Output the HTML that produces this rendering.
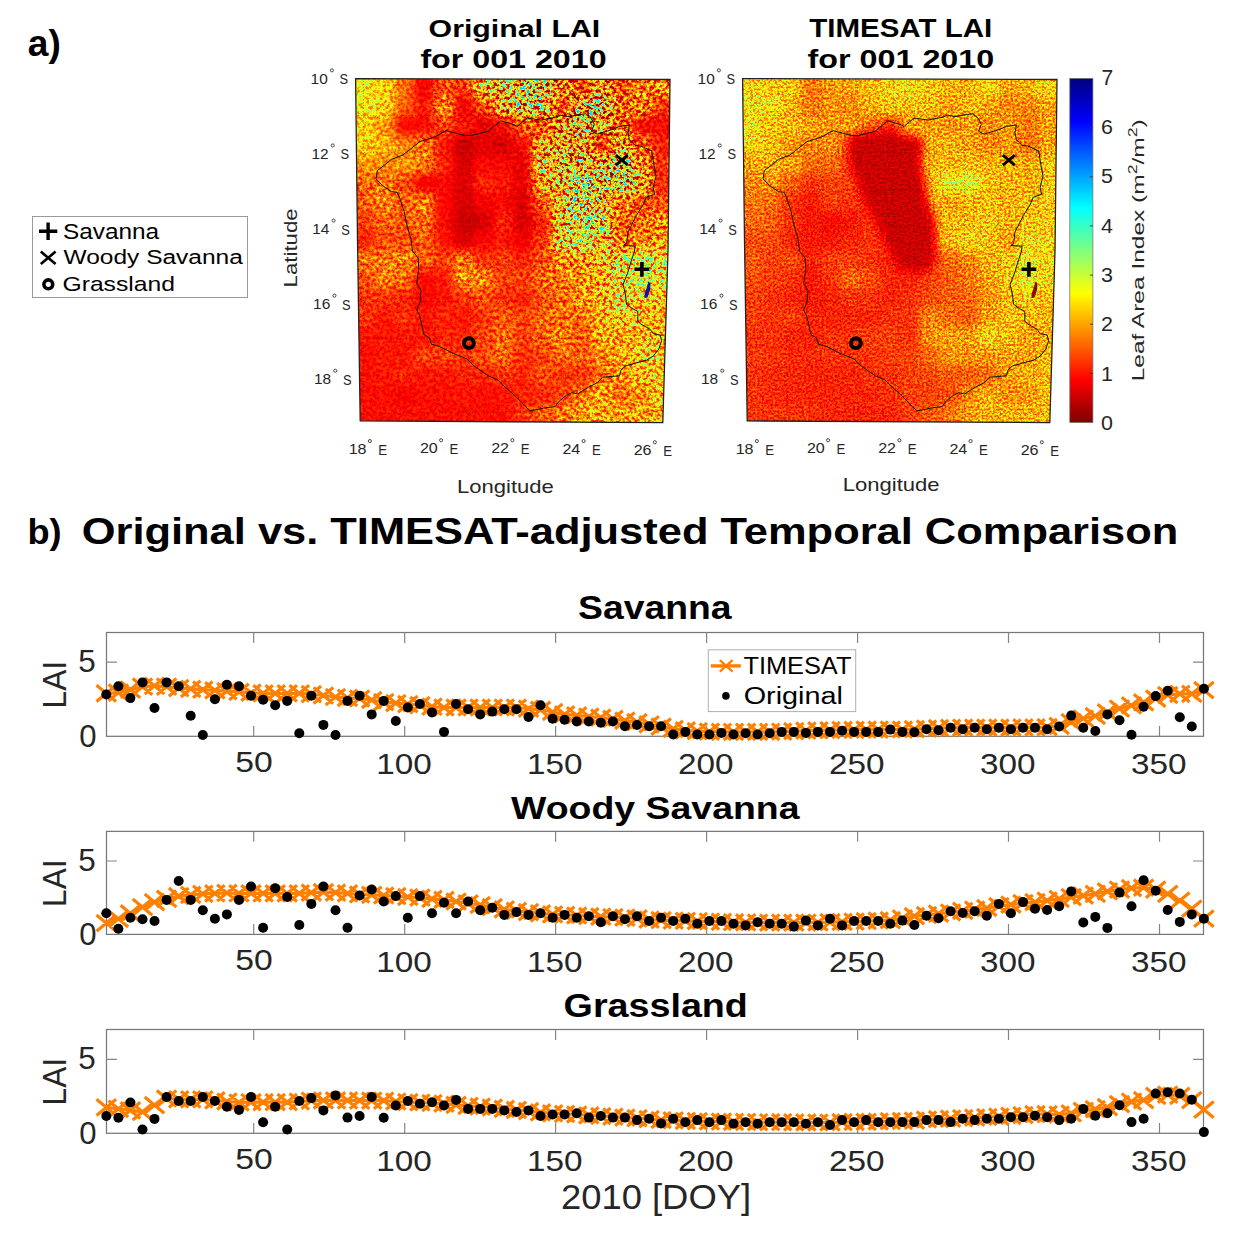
<!DOCTYPE html>
<html><head><meta charset="utf-8"><style>html,body{margin:0;padding:0;background:#fff;overflow:hidden}svg{display:block}</style></head><body>
<svg width="1245" height="1234" viewBox="0 0 1245 1234" font-family="'Liberation Sans', sans-serif">
<defs>
<filter id="lai0" filterUnits="userSpaceOnUse" x="350.0" y="73.0" width="326.0" height="355.0" color-interpolation-filters="sRGB">
<feGaussianBlur in="SourceGraphic" stdDeviation="5" result="b"/>
<feColorMatrix in="b" type="matrix" values="0 1 0 0 0 0 1 0 0 0 0 1 0 0 0 0 0 0 0 1" result="amp"/>
<feTurbulence type="fractalNoise" baseFrequency="0.3" numOctaves="4" seed="7" result="t0"/>
<feColorMatrix in="t0" type="matrix" values="1 0 0 0 0 1 0 0 0 0 1 0 0 0 0 0 0 0 0 1" result="t1"/>
<feComponentTransfer in="t1" result="t"><feFuncR type="linear" slope="2.5" intercept="-0.75"/><feFuncG type="linear" slope="2.5" intercept="-0.75"/><feFuncB type="linear" slope="2.5" intercept="-0.75"/></feComponentTransfer>
<feComposite in="amp" in2="t" operator="arithmetic" k1="1.0" k2="0" k3="0" k4="0" result="p"/>
<feComposite in="b" in2="p" operator="arithmetic" k1="0" k2="1" k3="1" k4="-0.5" result="s0"/>
<feColorMatrix in="s0" type="matrix" values="1 0 0 0 0 1 0 0 0 0 1 0 0 0 0 0 0 0 0 1" result="s"/>
<feComponentTransfer in="s">
<feFuncR type="table" tableValues="0.500 0.562 0.625 0.688 0.750 0.812 0.875 0.938 1.000 1.000 1.000 1.000 1.000 1.000 1.000 1.000 1.000 1.000 1.000 1.000 1.000 1.000 1.000 1.000 1.000 0.938 0.875 0.812 0.750 0.688 0.625 0.562 0.500 0.438 0.375 0.312 0.250 0.188 0.125 0.062 0.000 0.000 0.000 0.000 0.000 0.000 0.000 0.000 0.000 0.000 0.000 0.000 0.000 0.000 0.000 0.000 0.000 0.000 0.000 0.000 0.000 0.000 0.000 0.000 0.000"/>
<feFuncG type="table" tableValues="0.000 0.000 0.000 0.000 0.000 0.000 0.000 0.000 0.000 0.062 0.125 0.188 0.250 0.312 0.375 0.438 0.500 0.562 0.625 0.688 0.750 0.812 0.875 0.938 1.000 1.000 1.000 1.000 1.000 1.000 1.000 1.000 1.000 1.000 1.000 1.000 1.000 1.000 1.000 1.000 1.000 0.938 0.875 0.812 0.750 0.688 0.625 0.562 0.500 0.438 0.375 0.312 0.250 0.188 0.125 0.062 0.000 0.000 0.000 0.000 0.000 0.000 0.000 0.000 0.000"/>
<feFuncB type="table" tableValues="0.000 0.000 0.000 0.000 0.000 0.000 0.000 0.000 0.000 0.000 0.000 0.000 0.000 0.000 0.000 0.000 0.000 0.000 0.000 0.000 0.000 0.000 0.000 0.000 0.000 0.062 0.125 0.188 0.250 0.312 0.375 0.438 0.500 0.562 0.625 0.688 0.750 0.812 0.875 0.938 1.000 1.000 1.000 1.000 1.000 1.000 1.000 1.000 1.000 1.000 1.000 1.000 1.000 1.000 1.000 1.000 1.000 0.938 0.875 0.812 0.750 0.688 0.625 0.562 0.500"/>
<feFuncA type="linear" slope="0" intercept="1"/>
</feComponentTransfer>
</filter>
<clipPath id="cliplai0"><polygon points="355.6,78.6 670.0,79.5 668.0,251.0 662.8,422.6 360.2,420.9 357.5,240.0"/></clipPath>
<filter id="lai1" filterUnits="userSpaceOnUse" x="737.0" y="73.0" width="326.0" height="355.0" color-interpolation-filters="sRGB">
<feGaussianBlur in="SourceGraphic" stdDeviation="5" result="b"/>
<feColorMatrix in="b" type="matrix" values="0 1 0 0 0 0 1 0 0 0 0 1 0 0 0 0 0 0 0 1" result="amp"/>
<feTurbulence type="fractalNoise" baseFrequency="0.45" numOctaves="3" seed="11" result="t0"/>
<feColorMatrix in="t0" type="matrix" values="1 0 0 0 0 1 0 0 0 0 1 0 0 0 0 0 0 0 0 1" result="t1"/>
<feComponentTransfer in="t1" result="t"><feFuncR type="linear" slope="2.5" intercept="-0.75"/><feFuncG type="linear" slope="2.5" intercept="-0.75"/><feFuncB type="linear" slope="2.5" intercept="-0.75"/></feComponentTransfer>
<feComposite in="amp" in2="t" operator="arithmetic" k1="1.0" k2="0" k3="0" k4="0" result="p"/>
<feComposite in="b" in2="p" operator="arithmetic" k1="0" k2="1" k3="1" k4="-0.5" result="s0"/>
<feColorMatrix in="s0" type="matrix" values="1 0 0 0 0 1 0 0 0 0 1 0 0 0 0 0 0 0 0 1" result="s"/>
<feComponentTransfer in="s">
<feFuncR type="table" tableValues="0.500 0.562 0.625 0.688 0.750 0.812 0.875 0.938 1.000 1.000 1.000 1.000 1.000 1.000 1.000 1.000 1.000 1.000 1.000 1.000 1.000 1.000 1.000 1.000 1.000 0.938 0.875 0.812 0.750 0.688 0.625 0.562 0.500 0.438 0.375 0.312 0.250 0.188 0.125 0.062 0.000 0.000 0.000 0.000 0.000 0.000 0.000 0.000 0.000 0.000 0.000 0.000 0.000 0.000 0.000 0.000 0.000 0.000 0.000 0.000 0.000 0.000 0.000 0.000 0.000"/>
<feFuncG type="table" tableValues="0.000 0.000 0.000 0.000 0.000 0.000 0.000 0.000 0.000 0.062 0.125 0.188 0.250 0.312 0.375 0.438 0.500 0.562 0.625 0.688 0.750 0.812 0.875 0.938 1.000 1.000 1.000 1.000 1.000 1.000 1.000 1.000 1.000 1.000 1.000 1.000 1.000 1.000 1.000 1.000 1.000 0.938 0.875 0.812 0.750 0.688 0.625 0.562 0.500 0.438 0.375 0.312 0.250 0.188 0.125 0.062 0.000 0.000 0.000 0.000 0.000 0.000 0.000 0.000 0.000"/>
<feFuncB type="table" tableValues="0.000 0.000 0.000 0.000 0.000 0.000 0.000 0.000 0.000 0.000 0.000 0.000 0.000 0.000 0.000 0.000 0.000 0.000 0.000 0.000 0.000 0.000 0.000 0.000 0.000 0.062 0.125 0.188 0.250 0.312 0.375 0.438 0.500 0.562 0.625 0.688 0.750 0.812 0.875 0.938 1.000 1.000 1.000 1.000 1.000 1.000 1.000 1.000 1.000 1.000 1.000 1.000 1.000 1.000 1.000 1.000 1.000 0.938 0.875 0.812 0.750 0.688 0.625 0.562 0.500"/>
<feFuncA type="linear" slope="0" intercept="1"/>
</feComponentTransfer>
</filter>
<clipPath id="cliplai1"><polygon points="742.6,78.6 1057.0,79.5 1055.0,251.0 1049.8,422.6 747.2,420.9 744.5,240.0"/></clipPath>
<linearGradient id="cbar" x1="0" y1="0" x2="0" y2="1"><stop offset="0.0000" stop-color="rgb(0,0,127)"/><stop offset="0.0156" stop-color="rgb(0,0,143)"/><stop offset="0.0312" stop-color="rgb(0,0,159)"/><stop offset="0.0469" stop-color="rgb(0,0,175)"/><stop offset="0.0625" stop-color="rgb(0,0,191)"/><stop offset="0.0781" stop-color="rgb(0,0,207)"/><stop offset="0.0938" stop-color="rgb(0,0,223)"/><stop offset="0.1094" stop-color="rgb(0,0,239)"/><stop offset="0.1250" stop-color="rgb(0,0,255)"/><stop offset="0.1406" stop-color="rgb(0,15,255)"/><stop offset="0.1562" stop-color="rgb(0,31,255)"/><stop offset="0.1719" stop-color="rgb(0,47,255)"/><stop offset="0.1875" stop-color="rgb(0,63,255)"/><stop offset="0.2031" stop-color="rgb(0,79,255)"/><stop offset="0.2188" stop-color="rgb(0,95,255)"/><stop offset="0.2344" stop-color="rgb(0,111,255)"/><stop offset="0.2500" stop-color="rgb(0,127,255)"/><stop offset="0.2656" stop-color="rgb(0,143,255)"/><stop offset="0.2812" stop-color="rgb(0,159,255)"/><stop offset="0.2969" stop-color="rgb(0,175,255)"/><stop offset="0.3125" stop-color="rgb(0,191,255)"/><stop offset="0.3281" stop-color="rgb(0,207,255)"/><stop offset="0.3438" stop-color="rgb(0,223,255)"/><stop offset="0.3594" stop-color="rgb(0,239,255)"/><stop offset="0.3750" stop-color="rgb(0,255,255)"/><stop offset="0.3906" stop-color="rgb(15,255,239)"/><stop offset="0.4062" stop-color="rgb(31,255,223)"/><stop offset="0.4219" stop-color="rgb(47,255,207)"/><stop offset="0.4375" stop-color="rgb(63,255,191)"/><stop offset="0.4531" stop-color="rgb(79,255,175)"/><stop offset="0.4688" stop-color="rgb(95,255,159)"/><stop offset="0.4844" stop-color="rgb(111,255,143)"/><stop offset="0.5000" stop-color="rgb(127,255,127)"/><stop offset="0.5156" stop-color="rgb(143,255,111)"/><stop offset="0.5312" stop-color="rgb(159,255,95)"/><stop offset="0.5469" stop-color="rgb(175,255,79)"/><stop offset="0.5625" stop-color="rgb(191,255,63)"/><stop offset="0.5781" stop-color="rgb(207,255,47)"/><stop offset="0.5938" stop-color="rgb(223,255,31)"/><stop offset="0.6094" stop-color="rgb(239,255,15)"/><stop offset="0.6250" stop-color="rgb(255,255,0)"/><stop offset="0.6406" stop-color="rgb(255,239,0)"/><stop offset="0.6562" stop-color="rgb(255,223,0)"/><stop offset="0.6719" stop-color="rgb(255,207,0)"/><stop offset="0.6875" stop-color="rgb(255,191,0)"/><stop offset="0.7031" stop-color="rgb(255,175,0)"/><stop offset="0.7188" stop-color="rgb(255,159,0)"/><stop offset="0.7344" stop-color="rgb(255,143,0)"/><stop offset="0.7500" stop-color="rgb(255,127,0)"/><stop offset="0.7656" stop-color="rgb(255,111,0)"/><stop offset="0.7812" stop-color="rgb(255,95,0)"/><stop offset="0.7969" stop-color="rgb(255,79,0)"/><stop offset="0.8125" stop-color="rgb(255,63,0)"/><stop offset="0.8281" stop-color="rgb(255,47,0)"/><stop offset="0.8438" stop-color="rgb(255,31,0)"/><stop offset="0.8594" stop-color="rgb(255,15,0)"/><stop offset="0.8750" stop-color="rgb(255,0,0)"/><stop offset="0.8906" stop-color="rgb(239,0,0)"/><stop offset="0.9062" stop-color="rgb(223,0,0)"/><stop offset="0.9219" stop-color="rgb(207,0,0)"/><stop offset="0.9375" stop-color="rgb(191,0,0)"/><stop offset="0.9531" stop-color="rgb(175,0,0)"/><stop offset="0.9688" stop-color="rgb(159,0,0)"/><stop offset="0.9844" stop-color="rgb(143,0,0)"/><stop offset="1.0000" stop-color="rgb(127,0,0)"/></linearGradient>
</defs>
<rect width="1245" height="1234" fill="#fff"/>
<g clip-path="url(#cliplai0)"><g filter="url(#lai0)">
<rect x="335.25" y="58.83" width="20.35" height="19.77" fill="rgb(190,58,0)"/>
<rect x="355.00" y="58.83" width="20.35" height="19.77" fill="rgb(190,58,0)"/>
<rect x="374.75" y="58.83" width="20.35" height="19.77" fill="rgb(183,57,0)"/>
<rect x="394.50" y="58.83" width="20.35" height="19.77" fill="rgb(169,35,0)"/>
<rect x="414.25" y="58.83" width="20.35" height="19.77" fill="rgb(149,16,0)"/>
<rect x="434.00" y="58.83" width="20.35" height="19.77" fill="rgb(152,53,0)"/>
<rect x="453.75" y="58.83" width="20.35" height="19.77" fill="rgb(150,42,0)"/>
<rect x="473.50" y="58.83" width="20.35" height="19.77" fill="rgb(143,130,0)"/>
<rect x="493.25" y="58.83" width="20.35" height="19.77" fill="rgb(137,141,0)"/>
<rect x="513.00" y="58.83" width="20.35" height="19.77" fill="rgb(129,172,0)"/>
<rect x="532.75" y="58.83" width="20.35" height="19.77" fill="rgb(125,173,0)"/>
<rect x="552.50" y="58.83" width="20.35" height="19.77" fill="rgb(130,126,0)"/>
<rect x="572.25" y="58.83" width="20.35" height="19.77" fill="rgb(139,71,0)"/>
<rect x="592.00" y="58.83" width="20.35" height="19.77" fill="rgb(131,132,0)"/>
<rect x="611.75" y="58.83" width="20.35" height="19.77" fill="rgb(142,73,0)"/>
<rect x="631.50" y="58.83" width="20.35" height="19.77" fill="rgb(144,83,0)"/>
<rect x="651.25" y="58.83" width="20.35" height="19.77" fill="rgb(149,88,0)"/>
<rect x="671.00" y="58.83" width="20.35" height="19.77" fill="rgb(149,88,0)"/>
<rect x="335.25" y="78.00" width="20.35" height="19.77" fill="rgb(190,58,0)"/>
<rect x="355.00" y="78.00" width="20.35" height="19.77" fill="rgb(190,58,0)"/>
<rect x="374.75" y="78.00" width="20.35" height="19.77" fill="rgb(183,57,0)"/>
<rect x="394.50" y="78.00" width="20.35" height="19.77" fill="rgb(169,35,0)"/>
<rect x="414.25" y="78.00" width="20.35" height="19.77" fill="rgb(149,16,0)"/>
<rect x="434.00" y="78.00" width="20.35" height="19.77" fill="rgb(152,53,0)"/>
<rect x="453.75" y="78.00" width="20.35" height="19.77" fill="rgb(150,42,0)"/>
<rect x="473.50" y="78.00" width="20.35" height="19.77" fill="rgb(143,130,0)"/>
<rect x="493.25" y="78.00" width="20.35" height="19.77" fill="rgb(137,141,0)"/>
<rect x="513.00" y="78.00" width="20.35" height="19.77" fill="rgb(129,172,0)"/>
<rect x="532.75" y="78.00" width="20.35" height="19.77" fill="rgb(125,173,0)"/>
<rect x="552.50" y="78.00" width="20.35" height="19.77" fill="rgb(130,126,0)"/>
<rect x="572.25" y="78.00" width="20.35" height="19.77" fill="rgb(139,71,0)"/>
<rect x="592.00" y="78.00" width="20.35" height="19.77" fill="rgb(131,132,0)"/>
<rect x="611.75" y="78.00" width="20.35" height="19.77" fill="rgb(142,73,0)"/>
<rect x="631.50" y="78.00" width="20.35" height="19.77" fill="rgb(144,83,0)"/>
<rect x="651.25" y="78.00" width="20.35" height="19.77" fill="rgb(149,88,0)"/>
<rect x="671.00" y="78.00" width="20.35" height="19.77" fill="rgb(149,88,0)"/>
<rect x="335.25" y="97.17" width="20.35" height="19.77" fill="rgb(190,58,0)"/>
<rect x="355.00" y="97.17" width="20.35" height="19.77" fill="rgb(190,58,0)"/>
<rect x="374.75" y="97.17" width="20.35" height="19.77" fill="rgb(185,60,0)"/>
<rect x="394.50" y="97.17" width="20.35" height="19.77" fill="rgb(167,31,0)"/>
<rect x="414.25" y="97.17" width="20.35" height="19.77" fill="rgb(153,23,0)"/>
<rect x="434.00" y="97.17" width="20.35" height="19.77" fill="rgb(153,81,0)"/>
<rect x="453.75" y="97.17" width="20.35" height="19.77" fill="rgb(147,19,0)"/>
<rect x="473.50" y="97.17" width="20.35" height="19.77" fill="rgb(147,55,0)"/>
<rect x="493.25" y="97.17" width="20.35" height="19.77" fill="rgb(138,126,0)"/>
<rect x="513.00" y="97.17" width="20.35" height="19.77" fill="rgb(129,179,0)"/>
<rect x="532.75" y="97.17" width="20.35" height="19.77" fill="rgb(122,172,0)"/>
<rect x="552.50" y="97.17" width="20.35" height="19.77" fill="rgb(137,76,0)"/>
<rect x="572.25" y="97.17" width="20.35" height="19.77" fill="rgb(115,186,0)"/>
<rect x="592.00" y="97.17" width="20.35" height="19.77" fill="rgb(117,180,0)"/>
<rect x="611.75" y="97.17" width="20.35" height="19.77" fill="rgb(137,91,0)"/>
<rect x="631.50" y="97.17" width="20.35" height="19.77" fill="rgb(139,108,0)"/>
<rect x="651.25" y="97.17" width="20.35" height="19.77" fill="rgb(149,45,0)"/>
<rect x="671.00" y="97.17" width="20.35" height="19.77" fill="rgb(149,45,0)"/>
<rect x="335.25" y="116.33" width="20.35" height="19.77" fill="rgb(185,54,0)"/>
<rect x="355.00" y="116.33" width="20.35" height="19.77" fill="rgb(185,54,0)"/>
<rect x="374.75" y="116.33" width="20.35" height="19.77" fill="rgb(176,42,0)"/>
<rect x="394.50" y="116.33" width="20.35" height="19.77" fill="rgb(156,9,0)"/>
<rect x="414.25" y="116.33" width="20.35" height="19.77" fill="rgb(153,15,0)"/>
<rect x="434.00" y="116.33" width="20.35" height="19.77" fill="rgb(154,42,0)"/>
<rect x="453.75" y="116.33" width="20.35" height="19.77" fill="rgb(152,24,0)"/>
<rect x="473.50" y="116.33" width="20.35" height="19.77" fill="rgb(144,19,0)"/>
<rect x="493.25" y="116.33" width="20.35" height="19.77" fill="rgb(150,21,0)"/>
<rect x="513.00" y="116.33" width="20.35" height="19.77" fill="rgb(144,69,0)"/>
<rect x="532.75" y="116.33" width="20.35" height="19.77" fill="rgb(142,67,0)"/>
<rect x="552.50" y="116.33" width="20.35" height="19.77" fill="rgb(129,129,0)"/>
<rect x="572.25" y="116.33" width="20.35" height="19.77" fill="rgb(117,182,0)"/>
<rect x="592.00" y="116.33" width="20.35" height="19.77" fill="rgb(124,145,0)"/>
<rect x="611.75" y="116.33" width="20.35" height="19.77" fill="rgb(134,103,0)"/>
<rect x="631.50" y="116.33" width="20.35" height="19.77" fill="rgb(148,24,0)"/>
<rect x="651.25" y="116.33" width="20.35" height="19.77" fill="rgb(150,20,0)"/>
<rect x="671.00" y="116.33" width="20.35" height="19.77" fill="rgb(150,20,0)"/>
<rect x="335.25" y="135.50" width="20.35" height="19.77" fill="rgb(185,52,0)"/>
<rect x="355.00" y="135.50" width="20.35" height="19.77" fill="rgb(185,52,0)"/>
<rect x="374.75" y="135.50" width="20.35" height="19.77" fill="rgb(181,47,0)"/>
<rect x="394.50" y="135.50" width="20.35" height="19.77" fill="rgb(174,37,0)"/>
<rect x="414.25" y="135.50" width="20.35" height="19.77" fill="rgb(160,58,0)"/>
<rect x="434.00" y="135.50" width="20.35" height="19.77" fill="rgb(154,20,0)"/>
<rect x="453.75" y="135.50" width="20.35" height="19.77" fill="rgb(138,15,0)"/>
<rect x="473.50" y="135.50" width="20.35" height="19.77" fill="rgb(145,16,0)"/>
<rect x="493.25" y="135.50" width="20.35" height="19.77" fill="rgb(140,18,0)"/>
<rect x="513.00" y="135.50" width="20.35" height="19.77" fill="rgb(150,20,0)"/>
<rect x="532.75" y="135.50" width="20.35" height="19.77" fill="rgb(138,125,0)"/>
<rect x="552.50" y="135.50" width="20.35" height="19.77" fill="rgb(130,141,0)"/>
<rect x="572.25" y="135.50" width="20.35" height="19.77" fill="rgb(129,129,0)"/>
<rect x="592.00" y="135.50" width="20.35" height="19.77" fill="rgb(140,62,0)"/>
<rect x="611.75" y="135.50" width="20.35" height="19.77" fill="rgb(130,133,0)"/>
<rect x="631.50" y="135.50" width="20.35" height="19.77" fill="rgb(142,80,0)"/>
<rect x="651.25" y="135.50" width="20.35" height="19.77" fill="rgb(149,36,0)"/>
<rect x="671.00" y="135.50" width="20.35" height="19.77" fill="rgb(149,36,0)"/>
<rect x="335.25" y="154.67" width="20.35" height="19.77" fill="rgb(177,39,0)"/>
<rect x="355.00" y="154.67" width="20.35" height="19.77" fill="rgb(177,39,0)"/>
<rect x="374.75" y="154.67" width="20.35" height="19.77" fill="rgb(175,36,0)"/>
<rect x="394.50" y="154.67" width="20.35" height="19.77" fill="rgb(177,40,0)"/>
<rect x="414.25" y="154.67" width="20.35" height="19.77" fill="rgb(162,56,0)"/>
<rect x="434.00" y="154.67" width="20.35" height="19.77" fill="rgb(155,24,0)"/>
<rect x="453.75" y="154.67" width="20.35" height="19.77" fill="rgb(142,14,0)"/>
<rect x="473.50" y="154.67" width="20.35" height="19.77" fill="rgb(153,15,0)"/>
<rect x="493.25" y="154.67" width="20.35" height="19.77" fill="rgb(152,16,0)"/>
<rect x="513.00" y="154.67" width="20.35" height="19.77" fill="rgb(144,19,0)"/>
<rect x="532.75" y="154.67" width="20.35" height="19.77" fill="rgb(140,143,0)"/>
<rect x="552.50" y="154.67" width="20.35" height="19.77" fill="rgb(130,154,0)"/>
<rect x="572.25" y="154.67" width="20.35" height="19.77" fill="rgb(123,169,0)"/>
<rect x="592.00" y="154.67" width="20.35" height="19.77" fill="rgb(125,150,0)"/>
<rect x="611.75" y="154.67" width="20.35" height="19.77" fill="rgb(123,184,0)"/>
<rect x="631.50" y="154.67" width="20.35" height="19.77" fill="rgb(139,107,0)"/>
<rect x="651.25" y="154.67" width="20.35" height="19.77" fill="rgb(149,44,0)"/>
<rect x="671.00" y="154.67" width="20.35" height="19.77" fill="rgb(149,44,0)"/>
<rect x="335.25" y="173.83" width="20.35" height="19.77" fill="rgb(161,49,0)"/>
<rect x="355.00" y="173.83" width="20.35" height="19.77" fill="rgb(161,49,0)"/>
<rect x="374.75" y="173.83" width="20.35" height="19.77" fill="rgb(162,55,0)"/>
<rect x="394.50" y="173.83" width="20.35" height="19.77" fill="rgb(159,39,0)"/>
<rect x="414.25" y="173.83" width="20.35" height="19.77" fill="rgb(150,13,0)"/>
<rect x="434.00" y="173.83" width="20.35" height="19.77" fill="rgb(154,13,0)"/>
<rect x="453.75" y="173.83" width="20.35" height="19.77" fill="rgb(143,14,0)"/>
<rect x="473.50" y="173.83" width="20.35" height="19.77" fill="rgb(155,26,0)"/>
<rect x="493.25" y="173.83" width="20.35" height="19.77" fill="rgb(153,22,0)"/>
<rect x="513.00" y="173.83" width="20.35" height="19.77" fill="rgb(144,18,0)"/>
<rect x="532.75" y="173.83" width="20.35" height="19.77" fill="rgb(144,113,0)"/>
<rect x="552.50" y="173.83" width="20.35" height="19.77" fill="rgb(135,130,0)"/>
<rect x="572.25" y="173.83" width="20.35" height="19.77" fill="rgb(145,184,0)"/>
<rect x="592.00" y="173.83" width="20.35" height="19.77" fill="rgb(122,178,0)"/>
<rect x="611.75" y="173.83" width="20.35" height="19.77" fill="rgb(133,179,0)"/>
<rect x="631.50" y="173.83" width="20.35" height="19.77" fill="rgb(137,141,0)"/>
<rect x="651.25" y="173.83" width="20.35" height="19.77" fill="rgb(150,35,0)"/>
<rect x="671.00" y="173.83" width="20.35" height="19.77" fill="rgb(150,35,0)"/>
<rect x="335.25" y="193.00" width="20.35" height="19.77" fill="rgb(160,44,0)"/>
<rect x="355.00" y="193.00" width="20.35" height="19.77" fill="rgb(160,44,0)"/>
<rect x="374.75" y="193.00" width="20.35" height="19.77" fill="rgb(163,60,0)"/>
<rect x="394.50" y="193.00" width="20.35" height="19.77" fill="rgb(160,44,0)"/>
<rect x="414.25" y="193.00" width="20.35" height="19.77" fill="rgb(163,60,0)"/>
<rect x="434.00" y="193.00" width="20.35" height="19.77" fill="rgb(154,13,0)"/>
<rect x="453.75" y="193.00" width="20.35" height="19.77" fill="rgb(143,13,0)"/>
<rect x="473.50" y="193.00" width="20.35" height="19.77" fill="rgb(150,14,0)"/>
<rect x="493.25" y="193.00" width="20.35" height="19.77" fill="rgb(153,15,0)"/>
<rect x="513.00" y="193.00" width="20.35" height="19.77" fill="rgb(141,17,0)"/>
<rect x="532.75" y="193.00" width="20.35" height="19.77" fill="rgb(148,68,0)"/>
<rect x="552.50" y="193.00" width="20.35" height="19.77" fill="rgb(137,140,0)"/>
<rect x="572.25" y="193.00" width="20.35" height="19.77" fill="rgb(136,173,0)"/>
<rect x="592.00" y="193.00" width="20.35" height="19.77" fill="rgb(131,146,0)"/>
<rect x="611.75" y="193.00" width="20.35" height="19.77" fill="rgb(140,91,0)"/>
<rect x="631.50" y="193.00" width="20.35" height="19.77" fill="rgb(146,65,0)"/>
<rect x="651.25" y="193.00" width="20.35" height="19.77" fill="rgb(150,56,0)"/>
<rect x="671.00" y="193.00" width="20.35" height="19.77" fill="rgb(150,56,0)"/>
<rect x="335.25" y="212.17" width="20.35" height="19.77" fill="rgb(158,34,0)"/>
<rect x="355.00" y="212.17" width="20.35" height="19.77" fill="rgb(158,34,0)"/>
<rect x="374.75" y="212.17" width="20.35" height="19.77" fill="rgb(160,44,0)"/>
<rect x="394.50" y="212.17" width="20.35" height="19.77" fill="rgb(160,44,0)"/>
<rect x="414.25" y="212.17" width="20.35" height="19.77" fill="rgb(161,50,0)"/>
<rect x="434.00" y="212.17" width="20.35" height="19.77" fill="rgb(154,13,0)"/>
<rect x="453.75" y="212.17" width="20.35" height="19.77" fill="rgb(139,13,0)"/>
<rect x="473.50" y="212.17" width="20.35" height="19.77" fill="rgb(142,14,0)"/>
<rect x="493.25" y="212.17" width="20.35" height="19.77" fill="rgb(154,27,0)"/>
<rect x="513.00" y="212.17" width="20.35" height="19.77" fill="rgb(141,16,0)"/>
<rect x="532.75" y="212.17" width="20.35" height="19.77" fill="rgb(151,33,0)"/>
<rect x="552.50" y="212.17" width="20.35" height="19.77" fill="rgb(144,128,0)"/>
<rect x="572.25" y="212.17" width="20.35" height="19.77" fill="rgb(151,156,0)"/>
<rect x="592.00" y="212.17" width="20.35" height="19.77" fill="rgb(143,159,0)"/>
<rect x="611.75" y="212.17" width="20.35" height="19.77" fill="rgb(145,74,0)"/>
<rect x="631.50" y="212.17" width="20.35" height="19.77" fill="rgb(148,75,0)"/>
<rect x="651.25" y="212.17" width="20.35" height="19.77" fill="rgb(153,81,0)"/>
<rect x="671.00" y="212.17" width="20.35" height="19.77" fill="rgb(153,81,0)"/>
<rect x="335.25" y="231.33" width="20.35" height="19.77" fill="rgb(156,23,0)"/>
<rect x="355.00" y="231.33" width="20.35" height="19.77" fill="rgb(156,23,0)"/>
<rect x="374.75" y="231.33" width="20.35" height="19.77" fill="rgb(159,39,0)"/>
<rect x="394.50" y="231.33" width="20.35" height="19.77" fill="rgb(159,39,0)"/>
<rect x="414.25" y="231.33" width="20.35" height="19.77" fill="rgb(160,44,0)"/>
<rect x="434.00" y="231.33" width="20.35" height="19.77" fill="rgb(155,18,0)"/>
<rect x="453.75" y="231.33" width="20.35" height="19.77" fill="rgb(143,13,0)"/>
<rect x="473.50" y="231.33" width="20.35" height="19.77" fill="rgb(153,14,0)"/>
<rect x="493.25" y="231.33" width="20.35" height="19.77" fill="rgb(154,20,0)"/>
<rect x="513.00" y="231.33" width="20.35" height="19.77" fill="rgb(149,15,0)"/>
<rect x="532.75" y="231.33" width="20.35" height="19.77" fill="rgb(153,37,0)"/>
<rect x="552.50" y="231.33" width="20.35" height="19.77" fill="rgb(150,130,0)"/>
<rect x="572.25" y="231.33" width="20.35" height="19.77" fill="rgb(160,138,0)"/>
<rect x="592.00" y="231.33" width="20.35" height="19.77" fill="rgb(145,132,0)"/>
<rect x="611.75" y="231.33" width="20.35" height="19.77" fill="rgb(149,74,0)"/>
<rect x="631.50" y="231.33" width="20.35" height="19.77" fill="rgb(152,83,0)"/>
<rect x="651.25" y="231.33" width="20.35" height="19.77" fill="rgb(156,82,0)"/>
<rect x="671.00" y="231.33" width="20.35" height="19.77" fill="rgb(156,82,0)"/>
<rect x="335.25" y="250.50" width="20.35" height="19.77" fill="rgb(162,55,0)"/>
<rect x="355.00" y="250.50" width="20.35" height="19.77" fill="rgb(162,55,0)"/>
<rect x="374.75" y="250.50" width="20.35" height="19.77" fill="rgb(162,55,0)"/>
<rect x="394.50" y="250.50" width="20.35" height="19.77" fill="rgb(163,60,0)"/>
<rect x="414.25" y="250.50" width="20.35" height="19.77" fill="rgb(160,44,0)"/>
<rect x="434.00" y="250.50" width="20.35" height="19.77" fill="rgb(158,34,0)"/>
<rect x="453.75" y="250.50" width="20.35" height="19.77" fill="rgb(162,55,0)"/>
<rect x="473.50" y="250.50" width="20.35" height="19.77" fill="rgb(156,29,0)"/>
<rect x="493.25" y="250.50" width="20.35" height="19.77" fill="rgb(157,36,0)"/>
<rect x="513.00" y="250.50" width="20.35" height="19.77" fill="rgb(154,26,0)"/>
<rect x="532.75" y="250.50" width="20.35" height="19.77" fill="rgb(155,47,0)"/>
<rect x="552.50" y="250.50" width="20.35" height="19.77" fill="rgb(155,77,0)"/>
<rect x="572.25" y="250.50" width="20.35" height="19.77" fill="rgb(153,87,0)"/>
<rect x="592.00" y="250.50" width="20.35" height="19.77" fill="rgb(153,109,0)"/>
<rect x="611.75" y="250.50" width="20.35" height="19.77" fill="rgb(158,120,0)"/>
<rect x="631.50" y="250.50" width="20.35" height="19.77" fill="rgb(173,114,0)"/>
<rect x="651.25" y="250.50" width="20.35" height="19.77" fill="rgb(165,106,0)"/>
<rect x="671.00" y="250.50" width="20.35" height="19.77" fill="rgb(165,106,0)"/>
<rect x="335.25" y="269.67" width="20.35" height="19.77" fill="rgb(159,39,0)"/>
<rect x="355.00" y="269.67" width="20.35" height="19.77" fill="rgb(159,39,0)"/>
<rect x="374.75" y="269.67" width="20.35" height="19.77" fill="rgb(162,55,0)"/>
<rect x="394.50" y="269.67" width="20.35" height="19.77" fill="rgb(161,49,0)"/>
<rect x="414.25" y="269.67" width="20.35" height="19.77" fill="rgb(154,13,0)"/>
<rect x="434.00" y="269.67" width="20.35" height="19.77" fill="rgb(155,18,0)"/>
<rect x="453.75" y="269.67" width="20.35" height="19.77" fill="rgb(164,66,0)"/>
<rect x="473.50" y="269.67" width="20.35" height="19.77" fill="rgb(163,61,0)"/>
<rect x="493.25" y="269.67" width="20.35" height="19.77" fill="rgb(157,35,0)"/>
<rect x="513.00" y="269.67" width="20.35" height="19.77" fill="rgb(157,36,0)"/>
<rect x="532.75" y="269.67" width="20.35" height="19.77" fill="rgb(158,55,0)"/>
<rect x="552.50" y="269.67" width="20.35" height="19.77" fill="rgb(158,64,0)"/>
<rect x="572.25" y="269.67" width="20.35" height="19.77" fill="rgb(158,78,0)"/>
<rect x="592.00" y="269.67" width="20.35" height="19.77" fill="rgb(158,91,0)"/>
<rect x="611.75" y="269.67" width="20.35" height="19.77" fill="rgb(164,108,0)"/>
<rect x="631.50" y="269.67" width="20.35" height="19.77" fill="rgb(184,105,0)"/>
<rect x="651.25" y="269.67" width="20.35" height="19.77" fill="rgb(168,100,0)"/>
<rect x="671.00" y="269.67" width="20.35" height="19.77" fill="rgb(168,100,0)"/>
<rect x="335.25" y="288.83" width="20.35" height="19.77" fill="rgb(157,29,0)"/>
<rect x="355.00" y="288.83" width="20.35" height="19.77" fill="rgb(157,29,0)"/>
<rect x="374.75" y="288.83" width="20.35" height="19.77" fill="rgb(157,29,0)"/>
<rect x="394.50" y="288.83" width="20.35" height="19.77" fill="rgb(156,23,0)"/>
<rect x="414.25" y="288.83" width="20.35" height="19.77" fill="rgb(154,13,0)"/>
<rect x="434.00" y="288.83" width="20.35" height="19.77" fill="rgb(155,18,0)"/>
<rect x="453.75" y="288.83" width="20.35" height="19.77" fill="rgb(157,29,0)"/>
<rect x="473.50" y="288.83" width="20.35" height="19.77" fill="rgb(159,39,0)"/>
<rect x="493.25" y="288.83" width="20.35" height="19.77" fill="rgb(157,29,0)"/>
<rect x="513.00" y="288.83" width="20.35" height="19.77" fill="rgb(155,24,0)"/>
<rect x="532.75" y="288.83" width="20.35" height="19.77" fill="rgb(158,42,0)"/>
<rect x="552.50" y="288.83" width="20.35" height="19.77" fill="rgb(159,54,0)"/>
<rect x="572.25" y="288.83" width="20.35" height="19.77" fill="rgb(161,72,0)"/>
<rect x="592.00" y="288.83" width="20.35" height="19.77" fill="rgb(162,84,0)"/>
<rect x="611.75" y="288.83" width="20.35" height="19.77" fill="rgb(165,100,0)"/>
<rect x="631.50" y="288.83" width="20.35" height="19.77" fill="rgb(165,93,0)"/>
<rect x="651.25" y="288.83" width="20.35" height="19.77" fill="rgb(165,85,0)"/>
<rect x="671.00" y="288.83" width="20.35" height="19.77" fill="rgb(165,85,0)"/>
<rect x="335.25" y="308.00" width="20.35" height="19.77" fill="rgb(157,29,0)"/>
<rect x="355.00" y="308.00" width="20.35" height="19.77" fill="rgb(157,29,0)"/>
<rect x="374.75" y="308.00" width="20.35" height="19.77" fill="rgb(155,18,0)"/>
<rect x="394.50" y="308.00" width="20.35" height="19.77" fill="rgb(157,29,0)"/>
<rect x="414.25" y="308.00" width="20.35" height="19.77" fill="rgb(155,18,0)"/>
<rect x="434.00" y="308.00" width="20.35" height="19.77" fill="rgb(156,23,0)"/>
<rect x="453.75" y="308.00" width="20.35" height="19.77" fill="rgb(155,18,0)"/>
<rect x="473.50" y="308.00" width="20.35" height="19.77" fill="rgb(157,29,0)"/>
<rect x="493.25" y="308.00" width="20.35" height="19.77" fill="rgb(160,45,0)"/>
<rect x="513.00" y="308.00" width="20.35" height="19.77" fill="rgb(158,34,0)"/>
<rect x="532.75" y="308.00" width="20.35" height="19.77" fill="rgb(160,51,0)"/>
<rect x="552.50" y="308.00" width="20.35" height="19.77" fill="rgb(160,52,0)"/>
<rect x="572.25" y="308.00" width="20.35" height="19.77" fill="rgb(160,52,0)"/>
<rect x="592.00" y="308.00" width="20.35" height="19.77" fill="rgb(164,80,0)"/>
<rect x="611.75" y="308.00" width="20.35" height="19.77" fill="rgb(167,96,0)"/>
<rect x="631.50" y="308.00" width="20.35" height="19.77" fill="rgb(166,84,0)"/>
<rect x="651.25" y="308.00" width="20.35" height="19.77" fill="rgb(165,77,0)"/>
<rect x="671.00" y="308.00" width="20.35" height="19.77" fill="rgb(165,77,0)"/>
<rect x="335.25" y="327.17" width="20.35" height="19.77" fill="rgb(155,18,0)"/>
<rect x="355.00" y="327.17" width="20.35" height="19.77" fill="rgb(155,18,0)"/>
<rect x="374.75" y="327.17" width="20.35" height="19.77" fill="rgb(155,18,0)"/>
<rect x="394.50" y="327.17" width="20.35" height="19.77" fill="rgb(155,18,0)"/>
<rect x="414.25" y="327.17" width="20.35" height="19.77" fill="rgb(155,18,0)"/>
<rect x="434.00" y="327.17" width="20.35" height="19.77" fill="rgb(156,23,0)"/>
<rect x="453.75" y="327.17" width="20.35" height="19.77" fill="rgb(156,23,0)"/>
<rect x="473.50" y="327.17" width="20.35" height="19.77" fill="rgb(158,34,0)"/>
<rect x="493.25" y="327.17" width="20.35" height="19.77" fill="rgb(161,50,0)"/>
<rect x="513.00" y="327.17" width="20.35" height="19.77" fill="rgb(158,34,0)"/>
<rect x="532.75" y="327.17" width="20.35" height="19.77" fill="rgb(160,45,0)"/>
<rect x="552.50" y="327.17" width="20.35" height="19.77" fill="rgb(163,61,0)"/>
<rect x="572.25" y="327.17" width="20.35" height="19.77" fill="rgb(159,45,0)"/>
<rect x="592.00" y="327.17" width="20.35" height="19.77" fill="rgb(165,77,0)"/>
<rect x="611.75" y="327.17" width="20.35" height="19.77" fill="rgb(164,72,0)"/>
<rect x="631.50" y="327.17" width="20.35" height="19.77" fill="rgb(166,77,0)"/>
<rect x="651.25" y="327.17" width="20.35" height="19.77" fill="rgb(167,82,0)"/>
<rect x="671.00" y="327.17" width="20.35" height="19.77" fill="rgb(167,82,0)"/>
<rect x="335.25" y="346.33" width="20.35" height="19.77" fill="rgb(154,16,0)"/>
<rect x="355.00" y="346.33" width="20.35" height="19.77" fill="rgb(154,16,0)"/>
<rect x="374.75" y="346.33" width="20.35" height="19.77" fill="rgb(155,18,0)"/>
<rect x="394.50" y="346.33" width="20.35" height="19.77" fill="rgb(155,18,0)"/>
<rect x="414.25" y="346.33" width="20.35" height="19.77" fill="rgb(158,34,0)"/>
<rect x="434.00" y="346.33" width="20.35" height="19.77" fill="rgb(158,34,0)"/>
<rect x="453.75" y="346.33" width="20.35" height="19.77" fill="rgb(157,29,0)"/>
<rect x="473.50" y="346.33" width="20.35" height="19.77" fill="rgb(159,39,0)"/>
<rect x="493.25" y="346.33" width="20.35" height="19.77" fill="rgb(161,50,0)"/>
<rect x="513.00" y="346.33" width="20.35" height="19.77" fill="rgb(157,29,0)"/>
<rect x="532.75" y="346.33" width="20.35" height="19.77" fill="rgb(158,34,0)"/>
<rect x="552.50" y="346.33" width="20.35" height="19.77" fill="rgb(161,50,0)"/>
<rect x="572.25" y="346.33" width="20.35" height="19.77" fill="rgb(160,45,0)"/>
<rect x="592.00" y="346.33" width="20.35" height="19.77" fill="rgb(163,60,0)"/>
<rect x="611.75" y="346.33" width="20.35" height="19.77" fill="rgb(165,71,0)"/>
<rect x="631.50" y="346.33" width="20.35" height="19.77" fill="rgb(169,92,0)"/>
<rect x="651.25" y="346.33" width="20.35" height="19.77" fill="rgb(168,86,0)"/>
<rect x="671.00" y="346.33" width="20.35" height="19.77" fill="rgb(168,86,0)"/>
<rect x="335.25" y="365.50" width="20.35" height="19.77" fill="rgb(154,16,0)"/>
<rect x="355.00" y="365.50" width="20.35" height="19.77" fill="rgb(154,16,0)"/>
<rect x="374.75" y="365.50" width="20.35" height="19.77" fill="rgb(155,18,0)"/>
<rect x="394.50" y="365.50" width="20.35" height="19.77" fill="rgb(156,23,0)"/>
<rect x="414.25" y="365.50" width="20.35" height="19.77" fill="rgb(155,18,0)"/>
<rect x="434.00" y="365.50" width="20.35" height="19.77" fill="rgb(155,18,0)"/>
<rect x="453.75" y="365.50" width="20.35" height="19.77" fill="rgb(156,23,0)"/>
<rect x="473.50" y="365.50" width="20.35" height="19.77" fill="rgb(156,23,0)"/>
<rect x="493.25" y="365.50" width="20.35" height="19.77" fill="rgb(157,29,0)"/>
<rect x="513.00" y="365.50" width="20.35" height="19.77" fill="rgb(156,23,0)"/>
<rect x="532.75" y="365.50" width="20.35" height="19.77" fill="rgb(159,39,0)"/>
<rect x="552.50" y="365.50" width="20.35" height="19.77" fill="rgb(157,29,0)"/>
<rect x="572.25" y="365.50" width="20.35" height="19.77" fill="rgb(157,29,0)"/>
<rect x="592.00" y="365.50" width="20.35" height="19.77" fill="rgb(161,50,0)"/>
<rect x="611.75" y="365.50" width="20.35" height="19.77" fill="rgb(164,65,0)"/>
<rect x="631.50" y="365.50" width="20.35" height="19.77" fill="rgb(167,81,0)"/>
<rect x="651.25" y="365.50" width="20.35" height="19.77" fill="rgb(168,86,0)"/>
<rect x="671.00" y="365.50" width="20.35" height="19.77" fill="rgb(168,86,0)"/>
<rect x="335.25" y="384.67" width="20.35" height="19.77" fill="rgb(154,16,0)"/>
<rect x="355.00" y="384.67" width="20.35" height="19.77" fill="rgb(154,16,0)"/>
<rect x="374.75" y="384.67" width="20.35" height="19.77" fill="rgb(154,16,0)"/>
<rect x="394.50" y="384.67" width="20.35" height="19.77" fill="rgb(152,13,0)"/>
<rect x="414.25" y="384.67" width="20.35" height="19.77" fill="rgb(154,16,0)"/>
<rect x="434.00" y="384.67" width="20.35" height="19.77" fill="rgb(154,16,0)"/>
<rect x="453.75" y="384.67" width="20.35" height="19.77" fill="rgb(155,18,0)"/>
<rect x="473.50" y="384.67" width="20.35" height="19.77" fill="rgb(154,16,0)"/>
<rect x="493.25" y="384.67" width="20.35" height="19.77" fill="rgb(155,18,0)"/>
<rect x="513.00" y="384.67" width="20.35" height="19.77" fill="rgb(156,23,0)"/>
<rect x="532.75" y="384.67" width="20.35" height="19.77" fill="rgb(156,23,0)"/>
<rect x="552.50" y="384.67" width="20.35" height="19.77" fill="rgb(158,34,0)"/>
<rect x="572.25" y="384.67" width="20.35" height="19.77" fill="rgb(162,55,0)"/>
<rect x="592.00" y="384.67" width="20.35" height="19.77" fill="rgb(165,70,0)"/>
<rect x="611.75" y="384.67" width="20.35" height="19.77" fill="rgb(161,49,0)"/>
<rect x="631.50" y="384.67" width="20.35" height="19.77" fill="rgb(164,65,0)"/>
<rect x="651.25" y="384.67" width="20.35" height="19.77" fill="rgb(167,81,0)"/>
<rect x="671.00" y="384.67" width="20.35" height="19.77" fill="rgb(167,81,0)"/>
<rect x="335.25" y="403.83" width="20.35" height="19.77" fill="rgb(154,16,0)"/>
<rect x="355.00" y="403.83" width="20.35" height="19.77" fill="rgb(154,16,0)"/>
<rect x="374.75" y="403.83" width="20.35" height="19.77" fill="rgb(154,16,0)"/>
<rect x="394.50" y="403.83" width="20.35" height="19.77" fill="rgb(154,16,0)"/>
<rect x="414.25" y="403.83" width="20.35" height="19.77" fill="rgb(154,16,0)"/>
<rect x="434.00" y="403.83" width="20.35" height="19.77" fill="rgb(154,16,0)"/>
<rect x="453.75" y="403.83" width="20.35" height="19.77" fill="rgb(154,16,0)"/>
<rect x="473.50" y="403.83" width="20.35" height="19.77" fill="rgb(154,16,0)"/>
<rect x="493.25" y="403.83" width="20.35" height="19.77" fill="rgb(154,16,0)"/>
<rect x="513.00" y="403.83" width="20.35" height="19.77" fill="rgb(157,29,0)"/>
<rect x="532.75" y="403.83" width="20.35" height="19.77" fill="rgb(160,44,0)"/>
<rect x="552.50" y="403.83" width="20.35" height="19.77" fill="rgb(162,55,0)"/>
<rect x="572.25" y="403.83" width="20.35" height="19.77" fill="rgb(165,70,0)"/>
<rect x="592.00" y="403.83" width="20.35" height="19.77" fill="rgb(166,75,0)"/>
<rect x="611.75" y="403.83" width="20.35" height="19.77" fill="rgb(165,70,0)"/>
<rect x="631.50" y="403.83" width="20.35" height="19.77" fill="rgb(165,70,0)"/>
<rect x="651.25" y="403.83" width="20.35" height="19.77" fill="rgb(167,81,0)"/>
<rect x="671.00" y="403.83" width="20.35" height="19.77" fill="rgb(167,81,0)"/>
<rect x="335.25" y="423.00" width="20.35" height="19.77" fill="rgb(154,16,0)"/>
<rect x="355.00" y="423.00" width="20.35" height="19.77" fill="rgb(154,16,0)"/>
<rect x="374.75" y="423.00" width="20.35" height="19.77" fill="rgb(154,16,0)"/>
<rect x="394.50" y="423.00" width="20.35" height="19.77" fill="rgb(154,16,0)"/>
<rect x="414.25" y="423.00" width="20.35" height="19.77" fill="rgb(154,16,0)"/>
<rect x="434.00" y="423.00" width="20.35" height="19.77" fill="rgb(154,16,0)"/>
<rect x="453.75" y="423.00" width="20.35" height="19.77" fill="rgb(154,16,0)"/>
<rect x="473.50" y="423.00" width="20.35" height="19.77" fill="rgb(154,16,0)"/>
<rect x="493.25" y="423.00" width="20.35" height="19.77" fill="rgb(154,16,0)"/>
<rect x="513.00" y="423.00" width="20.35" height="19.77" fill="rgb(157,29,0)"/>
<rect x="532.75" y="423.00" width="20.35" height="19.77" fill="rgb(160,44,0)"/>
<rect x="552.50" y="423.00" width="20.35" height="19.77" fill="rgb(162,55,0)"/>
<rect x="572.25" y="423.00" width="20.35" height="19.77" fill="rgb(165,70,0)"/>
<rect x="592.00" y="423.00" width="20.35" height="19.77" fill="rgb(166,75,0)"/>
<rect x="611.75" y="423.00" width="20.35" height="19.77" fill="rgb(165,70,0)"/>
<rect x="631.50" y="423.00" width="20.35" height="19.77" fill="rgb(165,70,0)"/>
<rect x="651.25" y="423.00" width="20.35" height="19.77" fill="rgb(167,81,0)"/>
<rect x="671.00" y="423.00" width="20.35" height="19.77" fill="rgb(167,81,0)"/>
</g>
<polygon points="648.5,281.5 650.5,283.5 650.0,290.0 647.5,297.5 644.5,298.0 644.8,293.0 646.5,288.5" fill="#1010b0"/>
<path d="M355.0 115.5H671.0M355.0 152.7H671.0M355.0 189.9H671.0M355.0 227.1H671.0M355.0 264.3H671.0M355.0 301.5H671.0M355.0 338.7H671.0M355.0 375.9H671.0M355.0 413.1H671.0M363.4 78.0V423.0M399.1 78.0V423.0M434.8 78.0V423.0M470.5 78.0V423.0M506.2 78.0V423.0M541.9 78.0V423.0M577.6 78.0V423.0M613.3 78.0V423.0M649.0 78.0V423.0" stroke="#000" stroke-opacity="0.28" stroke-width="1" stroke-dasharray="1 2" fill="none"/>
</g>
<polyline points="412.5,251.0 411.1,239.2 406.9,225.2 404.1,211.2 399.9,198.6 397.1,192.3 391.5,191.6 383.0,185.9 376.0,178.9 377.4,170.5 383.0,166.3 391.5,159.3 402.7,155.1 415.3,145.3 419.5,141.8 434.9,136.9 446.1,130.6 464.4,135.5 471.4,135.5 488.2,131.3 500.8,120.8 513.0,124.3 517.2,126.4 527.0,118.0 541.0,120.1 555.1,117.3 560.7,115.2 567.7,116.6 580.3,114.5 585.9,113.7 591.5,118.7 594.3,124.3 591.5,131.3 597.1,134.1 611.1,129.9 619.5,126.4 629.4,125.0 628.0,132.7 629.4,139.7 635.0,145.3 640.6,146.0 651.8,150.9 653.2,160.7 654.6,169.1 656.0,176.1 653.2,187.4 654.6,194.4 646.2,197.2 643.4,204.2 636.4,215.4 630.8,226.6 628.0,232.2 626.6,243.4 623.8,245.5 635.0,246.2 634.5,251.0 630.8,262.2 628.0,272.0 625.2,279.0 623.1,284.6 625.2,293.1 626.6,304.3 632.2,308.5 637.8,311.3 637.8,321.1 640.6,323.9 650.4,329.5 653.2,333.7 660.2,335.1 661.6,340.7 658.8,349.1 653.2,356.1 646.2,360.4 635.0,363.2 625.2,366.0 621.0,370.2 619.5,375.8 611.1,376.5 602.7,377.2 597.1,382.8 588.7,387.0 577.5,394.0 571.9,392.6 566.3,395.4 559.3,401.0 555.1,406.6 543.8,408.0 538.2,409.4 529.8,410.8 521.4,402.4 513.0,394.0 505.0,387.0 498.0,380.0 488.2,375.8 474.2,366.0 467.2,359.0 453.1,353.3 439.1,346.3 431.4,344.2 429.3,337.9 423.7,334.4 422.3,326.7 419.5,315.5 416.7,309.9 420.2,301.5 420.9,290.3 416.7,283.2 418.8,269.2 418.1,258.0 412.5,251.0" fill="none" stroke="#111" stroke-width="1" stroke-linejoin="round"/>
<polygon points="355.6,78.6 670.0,79.5 668.0,251.0 662.8,422.6 360.2,420.9 357.5,240.0" fill="none" stroke="#222" stroke-width="1.3"/>
<path d="M634.5 269.3H649.3M641.9 261.9V276.7" stroke="#000" stroke-width="3.6"/>
<path d="M615.8 155.1L627.8 165.1M615.8 165.1L627.8 155.1" stroke="#000" stroke-width="2.8"/>
<circle cx="468.9" cy="343.1" r="4.9" fill="none" stroke="#000" stroke-width="4"/>
<text x="310.55" y="83.60" font-size="14.95" fill="#262626" textLength="17.17" lengthAdjust="spacingAndGlyphs">10</text>
<text x="339.55" y="84.35" font-size="14.45" fill="#262626" textLength="8.58" lengthAdjust="spacingAndGlyphs">S</text>
<circle cx="331.90" cy="70.35" r="1.55" fill="none" stroke="#333" stroke-width="0.9"/>
<text x="311.40" y="158.70" font-size="14.95" fill="#262626" textLength="17.17" lengthAdjust="spacingAndGlyphs">12</text>
<text x="340.40" y="159.45" font-size="14.45" fill="#262626" textLength="8.58" lengthAdjust="spacingAndGlyphs">S</text>
<circle cx="332.75" cy="145.45" r="1.55" fill="none" stroke="#333" stroke-width="0.9"/>
<text x="312.25" y="233.80" font-size="14.95" fill="#262626" textLength="17.17" lengthAdjust="spacingAndGlyphs">14</text>
<text x="341.25" y="234.55" font-size="14.45" fill="#262626" textLength="8.58" lengthAdjust="spacingAndGlyphs">S</text>
<circle cx="333.60" cy="220.55" r="1.55" fill="none" stroke="#333" stroke-width="0.9"/>
<text x="313.10" y="308.90" font-size="14.95" fill="#262626" textLength="17.17" lengthAdjust="spacingAndGlyphs">16</text>
<text x="342.10" y="309.65" font-size="14.45" fill="#262626" textLength="8.58" lengthAdjust="spacingAndGlyphs">S</text>
<circle cx="334.45" cy="295.65" r="1.55" fill="none" stroke="#333" stroke-width="0.9"/>
<text x="313.95" y="384.00" font-size="14.95" fill="#262626" textLength="17.17" lengthAdjust="spacingAndGlyphs">18</text>
<text x="342.95" y="384.75" font-size="14.45" fill="#262626" textLength="8.58" lengthAdjust="spacingAndGlyphs">S</text>
<circle cx="335.30" cy="370.75" r="1.55" fill="none" stroke="#333" stroke-width="0.9"/>
<text x="348.70" y="454.20" font-size="15.35" fill="#262626" textLength="17.88" lengthAdjust="spacingAndGlyphs">18</text>
<text x="378.15" y="454.60" font-size="14.38" fill="#262626" textLength="8.81" lengthAdjust="spacingAndGlyphs">E</text>
<circle cx="369.85" cy="441.05" r="1.55" fill="none" stroke="#333" stroke-width="0.9"/>
<text x="419.95" y="453.40" font-size="15.35" fill="#262626" textLength="17.88" lengthAdjust="spacingAndGlyphs">20</text>
<text x="449.40" y="453.80" font-size="14.38" fill="#262626" textLength="8.81" lengthAdjust="spacingAndGlyphs">E</text>
<circle cx="441.10" cy="440.25" r="1.55" fill="none" stroke="#333" stroke-width="0.9"/>
<text x="491.20" y="453.40" font-size="15.35" fill="#262626" textLength="17.88" lengthAdjust="spacingAndGlyphs">22</text>
<text x="520.65" y="453.80" font-size="14.38" fill="#262626" textLength="8.81" lengthAdjust="spacingAndGlyphs">E</text>
<circle cx="512.35" cy="440.25" r="1.55" fill="none" stroke="#333" stroke-width="0.9"/>
<text x="562.45" y="454.20" font-size="15.35" fill="#262626" textLength="17.88" lengthAdjust="spacingAndGlyphs">24</text>
<text x="591.90" y="454.60" font-size="14.38" fill="#262626" textLength="8.81" lengthAdjust="spacingAndGlyphs">E</text>
<circle cx="583.60" cy="441.05" r="1.55" fill="none" stroke="#333" stroke-width="0.9"/>
<text x="633.70" y="455.40" font-size="15.35" fill="#262626" textLength="17.88" lengthAdjust="spacingAndGlyphs">26</text>
<text x="663.15" y="455.80" font-size="14.38" fill="#262626" textLength="8.81" lengthAdjust="spacingAndGlyphs">E</text>
<circle cx="654.85" cy="442.25" r="1.55" fill="none" stroke="#333" stroke-width="0.9"/>
<g clip-path="url(#cliplai1)"><g filter="url(#lai1)">
<rect x="722.25" y="58.83" width="20.35" height="19.77" fill="rgb(184,62,0)"/>
<rect x="742.00" y="58.83" width="20.35" height="19.77" fill="rgb(184,62,0)"/>
<rect x="761.75" y="58.83" width="20.35" height="19.77" fill="rgb(181,60,0)"/>
<rect x="781.50" y="58.83" width="20.35" height="19.77" fill="rgb(181,60,0)"/>
<rect x="801.25" y="58.83" width="20.35" height="19.77" fill="rgb(167,44,0)"/>
<rect x="821.00" y="58.83" width="20.35" height="19.77" fill="rgb(172,49,0)"/>
<rect x="840.75" y="58.83" width="20.35" height="19.77" fill="rgb(174,52,0)"/>
<rect x="860.50" y="58.83" width="20.35" height="19.77" fill="rgb(179,57,0)"/>
<rect x="880.25" y="58.83" width="20.35" height="19.77" fill="rgb(184,62,0)"/>
<rect x="900.00" y="58.83" width="20.35" height="19.77" fill="rgb(186,65,0)"/>
<rect x="919.75" y="58.83" width="20.35" height="19.77" fill="rgb(181,60,0)"/>
<rect x="939.50" y="58.83" width="20.35" height="19.77" fill="rgb(177,55,0)"/>
<rect x="959.25" y="58.83" width="20.35" height="19.77" fill="rgb(177,55,0)"/>
<rect x="979.00" y="58.83" width="20.35" height="19.77" fill="rgb(184,62,0)"/>
<rect x="998.75" y="58.83" width="20.35" height="19.77" fill="rgb(174,52,0)"/>
<rect x="1018.50" y="58.83" width="20.35" height="19.77" fill="rgb(177,55,0)"/>
<rect x="1038.25" y="58.83" width="20.35" height="19.77" fill="rgb(184,62,0)"/>
<rect x="1058.00" y="58.83" width="20.35" height="19.77" fill="rgb(184,62,0)"/>
<rect x="722.25" y="78.00" width="20.35" height="19.77" fill="rgb(184,62,0)"/>
<rect x="742.00" y="78.00" width="20.35" height="19.77" fill="rgb(184,62,0)"/>
<rect x="761.75" y="78.00" width="20.35" height="19.77" fill="rgb(181,60,0)"/>
<rect x="781.50" y="78.00" width="20.35" height="19.77" fill="rgb(181,60,0)"/>
<rect x="801.25" y="78.00" width="20.35" height="19.77" fill="rgb(167,44,0)"/>
<rect x="821.00" y="78.00" width="20.35" height="19.77" fill="rgb(172,49,0)"/>
<rect x="840.75" y="78.00" width="20.35" height="19.77" fill="rgb(174,52,0)"/>
<rect x="860.50" y="78.00" width="20.35" height="19.77" fill="rgb(179,57,0)"/>
<rect x="880.25" y="78.00" width="20.35" height="19.77" fill="rgb(184,62,0)"/>
<rect x="900.00" y="78.00" width="20.35" height="19.77" fill="rgb(186,65,0)"/>
<rect x="919.75" y="78.00" width="20.35" height="19.77" fill="rgb(181,60,0)"/>
<rect x="939.50" y="78.00" width="20.35" height="19.77" fill="rgb(177,55,0)"/>
<rect x="959.25" y="78.00" width="20.35" height="19.77" fill="rgb(177,55,0)"/>
<rect x="979.00" y="78.00" width="20.35" height="19.77" fill="rgb(184,62,0)"/>
<rect x="998.75" y="78.00" width="20.35" height="19.77" fill="rgb(174,52,0)"/>
<rect x="1018.50" y="78.00" width="20.35" height="19.77" fill="rgb(177,55,0)"/>
<rect x="1038.25" y="78.00" width="20.35" height="19.77" fill="rgb(184,62,0)"/>
<rect x="1058.00" y="78.00" width="20.35" height="19.77" fill="rgb(184,62,0)"/>
<rect x="722.25" y="97.17" width="20.35" height="19.77" fill="rgb(186,65,0)"/>
<rect x="742.00" y="97.17" width="20.35" height="19.77" fill="rgb(186,65,0)"/>
<rect x="761.75" y="97.17" width="20.35" height="19.77" fill="rgb(186,65,0)"/>
<rect x="781.50" y="97.17" width="20.35" height="19.77" fill="rgb(177,55,0)"/>
<rect x="801.25" y="97.17" width="20.35" height="19.77" fill="rgb(167,44,0)"/>
<rect x="821.00" y="97.17" width="20.35" height="19.77" fill="rgb(172,49,0)"/>
<rect x="840.75" y="97.17" width="20.35" height="19.77" fill="rgb(170,47,0)"/>
<rect x="860.50" y="97.17" width="20.35" height="19.77" fill="rgb(177,55,0)"/>
<rect x="880.25" y="97.17" width="20.35" height="19.77" fill="rgb(181,60,0)"/>
<rect x="900.00" y="97.17" width="20.35" height="19.77" fill="rgb(179,57,0)"/>
<rect x="919.75" y="97.17" width="20.35" height="19.77" fill="rgb(179,57,0)"/>
<rect x="939.50" y="97.17" width="20.35" height="19.77" fill="rgb(174,52,0)"/>
<rect x="959.25" y="97.17" width="20.35" height="19.77" fill="rgb(179,57,0)"/>
<rect x="979.00" y="97.17" width="20.35" height="19.77" fill="rgb(174,52,0)"/>
<rect x="998.75" y="97.17" width="20.35" height="19.77" fill="rgb(170,47,0)"/>
<rect x="1018.50" y="97.17" width="20.35" height="19.77" fill="rgb(170,47,0)"/>
<rect x="1038.25" y="97.17" width="20.35" height="19.77" fill="rgb(174,52,0)"/>
<rect x="1058.00" y="97.17" width="20.35" height="19.77" fill="rgb(174,52,0)"/>
<rect x="722.25" y="116.33" width="20.35" height="19.77" fill="rgb(186,65,0)"/>
<rect x="742.00" y="116.33" width="20.35" height="19.77" fill="rgb(186,65,0)"/>
<rect x="761.75" y="116.33" width="20.35" height="19.77" fill="rgb(179,57,0)"/>
<rect x="781.50" y="116.33" width="20.35" height="19.77" fill="rgb(179,57,0)"/>
<rect x="801.25" y="116.33" width="20.35" height="19.77" fill="rgb(174,52,0)"/>
<rect x="821.00" y="116.33" width="20.35" height="19.77" fill="rgb(172,49,0)"/>
<rect x="840.75" y="116.33" width="20.35" height="19.77" fill="rgb(174,52,0)"/>
<rect x="860.50" y="116.33" width="20.35" height="19.77" fill="rgb(165,42,0)"/>
<rect x="880.25" y="116.33" width="20.35" height="19.77" fill="rgb(156,31,0)"/>
<rect x="900.00" y="116.33" width="20.35" height="19.77" fill="rgb(174,52,0)"/>
<rect x="919.75" y="116.33" width="20.35" height="19.77" fill="rgb(174,52,0)"/>
<rect x="939.50" y="116.33" width="20.35" height="19.77" fill="rgb(172,49,0)"/>
<rect x="959.25" y="116.33" width="20.35" height="19.77" fill="rgb(174,52,0)"/>
<rect x="979.00" y="116.33" width="20.35" height="19.77" fill="rgb(170,47,0)"/>
<rect x="998.75" y="116.33" width="20.35" height="19.77" fill="rgb(174,52,0)"/>
<rect x="1018.50" y="116.33" width="20.35" height="19.77" fill="rgb(167,44,0)"/>
<rect x="1038.25" y="116.33" width="20.35" height="19.77" fill="rgb(174,52,0)"/>
<rect x="1058.00" y="116.33" width="20.35" height="19.77" fill="rgb(174,52,0)"/>
<rect x="722.25" y="135.50" width="20.35" height="19.77" fill="rgb(184,62,0)"/>
<rect x="742.00" y="135.50" width="20.35" height="19.77" fill="rgb(184,62,0)"/>
<rect x="761.75" y="135.50" width="20.35" height="19.77" fill="rgb(179,57,0)"/>
<rect x="781.50" y="135.50" width="20.35" height="19.77" fill="rgb(172,49,0)"/>
<rect x="801.25" y="135.50" width="20.35" height="19.77" fill="rgb(170,47,0)"/>
<rect x="821.00" y="135.50" width="20.35" height="19.77" fill="rgb(170,47,0)"/>
<rect x="840.75" y="135.50" width="20.35" height="19.77" fill="rgb(163,39,0)"/>
<rect x="860.50" y="135.50" width="20.35" height="19.77" fill="rgb(146,21,0)"/>
<rect x="880.25" y="135.50" width="20.35" height="19.77" fill="rgb(143,20,0)"/>
<rect x="900.00" y="135.50" width="20.35" height="19.77" fill="rgb(160,36,0)"/>
<rect x="919.75" y="135.50" width="20.35" height="19.77" fill="rgb(177,55,0)"/>
<rect x="939.50" y="135.50" width="20.35" height="19.77" fill="rgb(177,55,0)"/>
<rect x="959.25" y="135.50" width="20.35" height="19.77" fill="rgb(174,52,0)"/>
<rect x="979.00" y="135.50" width="20.35" height="19.77" fill="rgb(170,47,0)"/>
<rect x="998.75" y="135.50" width="20.35" height="19.77" fill="rgb(172,49,0)"/>
<rect x="1018.50" y="135.50" width="20.35" height="19.77" fill="rgb(167,44,0)"/>
<rect x="1038.25" y="135.50" width="20.35" height="19.77" fill="rgb(174,52,0)"/>
<rect x="1058.00" y="135.50" width="20.35" height="19.77" fill="rgb(174,52,0)"/>
<rect x="722.25" y="154.67" width="20.35" height="19.77" fill="rgb(174,52,0)"/>
<rect x="742.00" y="154.67" width="20.35" height="19.77" fill="rgb(174,52,0)"/>
<rect x="761.75" y="154.67" width="20.35" height="19.77" fill="rgb(177,55,0)"/>
<rect x="781.50" y="154.67" width="20.35" height="19.77" fill="rgb(174,52,0)"/>
<rect x="801.25" y="154.67" width="20.35" height="19.77" fill="rgb(165,42,0)"/>
<rect x="821.00" y="154.67" width="20.35" height="19.77" fill="rgb(165,42,0)"/>
<rect x="840.75" y="154.67" width="20.35" height="19.77" fill="rgb(158,34,0)"/>
<rect x="860.50" y="154.67" width="20.35" height="19.77" fill="rgb(146,21,0)"/>
<rect x="880.25" y="154.67" width="20.35" height="19.77" fill="rgb(146,21,0)"/>
<rect x="900.00" y="154.67" width="20.35" height="19.77" fill="rgb(143,20,0)"/>
<rect x="919.75" y="154.67" width="20.35" height="19.77" fill="rgb(177,55,0)"/>
<rect x="939.50" y="154.67" width="20.35" height="19.77" fill="rgb(177,55,0)"/>
<rect x="959.25" y="154.67" width="20.35" height="19.77" fill="rgb(179,57,0)"/>
<rect x="979.00" y="154.67" width="20.35" height="19.77" fill="rgb(177,55,0)"/>
<rect x="998.75" y="154.67" width="20.35" height="19.77" fill="rgb(179,57,0)"/>
<rect x="1018.50" y="154.67" width="20.35" height="19.77" fill="rgb(174,52,0)"/>
<rect x="1038.25" y="154.67" width="20.35" height="19.77" fill="rgb(181,60,0)"/>
<rect x="1058.00" y="154.67" width="20.35" height="19.77" fill="rgb(181,60,0)"/>
<rect x="722.25" y="173.83" width="20.35" height="19.77" fill="rgb(170,47,0)"/>
<rect x="742.00" y="173.83" width="20.35" height="19.77" fill="rgb(170,47,0)"/>
<rect x="761.75" y="173.83" width="20.35" height="19.77" fill="rgb(172,49,0)"/>
<rect x="781.50" y="173.83" width="20.35" height="19.77" fill="rgb(163,39,0)"/>
<rect x="801.25" y="173.83" width="20.35" height="19.77" fill="rgb(156,31,0)"/>
<rect x="821.00" y="173.83" width="20.35" height="19.77" fill="rgb(158,34,0)"/>
<rect x="840.75" y="173.83" width="20.35" height="19.77" fill="rgb(158,34,0)"/>
<rect x="860.50" y="173.83" width="20.35" height="19.77" fill="rgb(149,23,0)"/>
<rect x="880.25" y="173.83" width="20.35" height="19.77" fill="rgb(149,23,0)"/>
<rect x="900.00" y="173.83" width="20.35" height="19.77" fill="rgb(151,26,0)"/>
<rect x="919.75" y="173.83" width="20.35" height="19.77" fill="rgb(177,55,0)"/>
<rect x="939.50" y="173.83" width="20.35" height="19.77" fill="rgb(193,65,0)"/>
<rect x="959.25" y="173.83" width="20.35" height="19.77" fill="rgb(197,65,0)"/>
<rect x="979.00" y="173.83" width="20.35" height="19.77" fill="rgb(179,57,0)"/>
<rect x="998.75" y="173.83" width="20.35" height="19.77" fill="rgb(177,55,0)"/>
<rect x="1018.50" y="173.83" width="20.35" height="19.77" fill="rgb(177,55,0)"/>
<rect x="1038.25" y="173.83" width="20.35" height="19.77" fill="rgb(181,60,0)"/>
<rect x="1058.00" y="173.83" width="20.35" height="19.77" fill="rgb(181,60,0)"/>
<rect x="722.25" y="193.00" width="20.35" height="19.77" fill="rgb(167,44,0)"/>
<rect x="742.00" y="193.00" width="20.35" height="19.77" fill="rgb(167,44,0)"/>
<rect x="761.75" y="193.00" width="20.35" height="19.77" fill="rgb(165,42,0)"/>
<rect x="781.50" y="193.00" width="20.35" height="19.77" fill="rgb(156,31,0)"/>
<rect x="801.25" y="193.00" width="20.35" height="19.77" fill="rgb(151,26,0)"/>
<rect x="821.00" y="193.00" width="20.35" height="19.77" fill="rgb(158,34,0)"/>
<rect x="840.75" y="193.00" width="20.35" height="19.77" fill="rgb(156,31,0)"/>
<rect x="860.50" y="193.00" width="20.35" height="19.77" fill="rgb(153,29,0)"/>
<rect x="880.25" y="193.00" width="20.35" height="19.77" fill="rgb(151,26,0)"/>
<rect x="900.00" y="193.00" width="20.35" height="19.77" fill="rgb(151,26,0)"/>
<rect x="919.75" y="193.00" width="20.35" height="19.77" fill="rgb(177,55,0)"/>
<rect x="939.50" y="193.00" width="20.35" height="19.77" fill="rgb(174,52,0)"/>
<rect x="959.25" y="193.00" width="20.35" height="19.77" fill="rgb(177,55,0)"/>
<rect x="979.00" y="193.00" width="20.35" height="19.77" fill="rgb(179,57,0)"/>
<rect x="998.75" y="193.00" width="20.35" height="19.77" fill="rgb(177,55,0)"/>
<rect x="1018.50" y="193.00" width="20.35" height="19.77" fill="rgb(179,57,0)"/>
<rect x="1038.25" y="193.00" width="20.35" height="19.77" fill="rgb(181,60,0)"/>
<rect x="1058.00" y="193.00" width="20.35" height="19.77" fill="rgb(181,60,0)"/>
<rect x="722.25" y="212.17" width="20.35" height="19.77" fill="rgb(165,42,0)"/>
<rect x="742.00" y="212.17" width="20.35" height="19.77" fill="rgb(165,42,0)"/>
<rect x="761.75" y="212.17" width="20.35" height="19.77" fill="rgb(163,39,0)"/>
<rect x="781.50" y="212.17" width="20.35" height="19.77" fill="rgb(156,31,0)"/>
<rect x="801.25" y="212.17" width="20.35" height="19.77" fill="rgb(151,26,0)"/>
<rect x="821.00" y="212.17" width="20.35" height="19.77" fill="rgb(149,23,0)"/>
<rect x="840.75" y="212.17" width="20.35" height="19.77" fill="rgb(151,26,0)"/>
<rect x="860.50" y="212.17" width="20.35" height="19.77" fill="rgb(156,31,0)"/>
<rect x="880.25" y="212.17" width="20.35" height="19.77" fill="rgb(153,29,0)"/>
<rect x="900.00" y="212.17" width="20.35" height="19.77" fill="rgb(151,26,0)"/>
<rect x="919.75" y="212.17" width="20.35" height="19.77" fill="rgb(172,49,0)"/>
<rect x="939.50" y="212.17" width="20.35" height="19.77" fill="rgb(179,57,0)"/>
<rect x="959.25" y="212.17" width="20.35" height="19.77" fill="rgb(179,57,0)"/>
<rect x="979.00" y="212.17" width="20.35" height="19.77" fill="rgb(181,60,0)"/>
<rect x="998.75" y="212.17" width="20.35" height="19.77" fill="rgb(177,55,0)"/>
<rect x="1018.50" y="212.17" width="20.35" height="19.77" fill="rgb(181,60,0)"/>
<rect x="1038.25" y="212.17" width="20.35" height="19.77" fill="rgb(181,60,0)"/>
<rect x="1058.00" y="212.17" width="20.35" height="19.77" fill="rgb(181,60,0)"/>
<rect x="722.25" y="231.33" width="20.35" height="19.77" fill="rgb(160,36,0)"/>
<rect x="742.00" y="231.33" width="20.35" height="19.77" fill="rgb(160,36,0)"/>
<rect x="761.75" y="231.33" width="20.35" height="19.77" fill="rgb(160,36,0)"/>
<rect x="781.50" y="231.33" width="20.35" height="19.77" fill="rgb(153,29,0)"/>
<rect x="801.25" y="231.33" width="20.35" height="19.77" fill="rgb(151,26,0)"/>
<rect x="821.00" y="231.33" width="20.35" height="19.77" fill="rgb(151,26,0)"/>
<rect x="840.75" y="231.33" width="20.35" height="19.77" fill="rgb(153,29,0)"/>
<rect x="860.50" y="231.33" width="20.35" height="19.77" fill="rgb(156,31,0)"/>
<rect x="880.25" y="231.33" width="20.35" height="19.77" fill="rgb(153,29,0)"/>
<rect x="900.00" y="231.33" width="20.35" height="19.77" fill="rgb(151,26,0)"/>
<rect x="919.75" y="231.33" width="20.35" height="19.77" fill="rgb(165,42,0)"/>
<rect x="939.50" y="231.33" width="20.35" height="19.77" fill="rgb(179,57,0)"/>
<rect x="959.25" y="231.33" width="20.35" height="19.77" fill="rgb(184,62,0)"/>
<rect x="979.00" y="231.33" width="20.35" height="19.77" fill="rgb(179,57,0)"/>
<rect x="998.75" y="231.33" width="20.35" height="19.77" fill="rgb(174,52,0)"/>
<rect x="1018.50" y="231.33" width="20.35" height="19.77" fill="rgb(184,62,0)"/>
<rect x="1038.25" y="231.33" width="20.35" height="19.77" fill="rgb(184,62,0)"/>
<rect x="1058.00" y="231.33" width="20.35" height="19.77" fill="rgb(184,62,0)"/>
<rect x="722.25" y="250.50" width="20.35" height="19.77" fill="rgb(163,39,0)"/>
<rect x="742.00" y="250.50" width="20.35" height="19.77" fill="rgb(163,39,0)"/>
<rect x="761.75" y="250.50" width="20.35" height="19.77" fill="rgb(158,34,0)"/>
<rect x="781.50" y="250.50" width="20.35" height="19.77" fill="rgb(160,36,0)"/>
<rect x="801.25" y="250.50" width="20.35" height="19.77" fill="rgb(153,29,0)"/>
<rect x="821.00" y="250.50" width="20.35" height="19.77" fill="rgb(158,34,0)"/>
<rect x="840.75" y="250.50" width="20.35" height="19.77" fill="rgb(158,34,0)"/>
<rect x="860.50" y="250.50" width="20.35" height="19.77" fill="rgb(156,31,0)"/>
<rect x="880.25" y="250.50" width="20.35" height="19.77" fill="rgb(153,29,0)"/>
<rect x="900.00" y="250.50" width="20.35" height="19.77" fill="rgb(151,26,0)"/>
<rect x="919.75" y="250.50" width="20.35" height="19.77" fill="rgb(156,31,0)"/>
<rect x="939.50" y="250.50" width="20.35" height="19.77" fill="rgb(165,42,0)"/>
<rect x="959.25" y="250.50" width="20.35" height="19.77" fill="rgb(170,47,0)"/>
<rect x="979.00" y="250.50" width="20.35" height="19.77" fill="rgb(177,55,0)"/>
<rect x="998.75" y="250.50" width="20.35" height="19.77" fill="rgb(181,60,0)"/>
<rect x="1018.50" y="250.50" width="20.35" height="19.77" fill="rgb(190,65,0)"/>
<rect x="1038.25" y="250.50" width="20.35" height="19.77" fill="rgb(184,62,0)"/>
<rect x="1058.00" y="250.50" width="20.35" height="19.77" fill="rgb(184,62,0)"/>
<rect x="722.25" y="269.67" width="20.35" height="19.77" fill="rgb(160,36,0)"/>
<rect x="742.00" y="269.67" width="20.35" height="19.77" fill="rgb(160,36,0)"/>
<rect x="761.75" y="269.67" width="20.35" height="19.77" fill="rgb(158,34,0)"/>
<rect x="781.50" y="269.67" width="20.35" height="19.77" fill="rgb(156,31,0)"/>
<rect x="801.25" y="269.67" width="20.35" height="19.77" fill="rgb(151,26,0)"/>
<rect x="821.00" y="269.67" width="20.35" height="19.77" fill="rgb(156,31,0)"/>
<rect x="840.75" y="269.67" width="20.35" height="19.77" fill="rgb(165,42,0)"/>
<rect x="860.50" y="269.67" width="20.35" height="19.77" fill="rgb(160,36,0)"/>
<rect x="880.25" y="269.67" width="20.35" height="19.77" fill="rgb(153,29,0)"/>
<rect x="900.00" y="269.67" width="20.35" height="19.77" fill="rgb(153,29,0)"/>
<rect x="919.75" y="269.67" width="20.35" height="19.77" fill="rgb(158,34,0)"/>
<rect x="939.50" y="269.67" width="20.35" height="19.77" fill="rgb(163,39,0)"/>
<rect x="959.25" y="269.67" width="20.35" height="19.77" fill="rgb(167,44,0)"/>
<rect x="979.00" y="269.67" width="20.35" height="19.77" fill="rgb(174,52,0)"/>
<rect x="998.75" y="269.67" width="20.35" height="19.77" fill="rgb(181,60,0)"/>
<rect x="1018.50" y="269.67" width="20.35" height="19.77" fill="rgb(193,65,0)"/>
<rect x="1038.25" y="269.67" width="20.35" height="19.77" fill="rgb(184,62,0)"/>
<rect x="1058.00" y="269.67" width="20.35" height="19.77" fill="rgb(184,62,0)"/>
<rect x="722.25" y="288.83" width="20.35" height="19.77" fill="rgb(158,34,0)"/>
<rect x="742.00" y="288.83" width="20.35" height="19.77" fill="rgb(158,34,0)"/>
<rect x="761.75" y="288.83" width="20.35" height="19.77" fill="rgb(156,31,0)"/>
<rect x="781.50" y="288.83" width="20.35" height="19.77" fill="rgb(153,29,0)"/>
<rect x="801.25" y="288.83" width="20.35" height="19.77" fill="rgb(151,26,0)"/>
<rect x="821.00" y="288.83" width="20.35" height="19.77" fill="rgb(153,29,0)"/>
<rect x="840.75" y="288.83" width="20.35" height="19.77" fill="rgb(156,31,0)"/>
<rect x="860.50" y="288.83" width="20.35" height="19.77" fill="rgb(156,31,0)"/>
<rect x="880.25" y="288.83" width="20.35" height="19.77" fill="rgb(153,29,0)"/>
<rect x="900.00" y="288.83" width="20.35" height="19.77" fill="rgb(156,31,0)"/>
<rect x="919.75" y="288.83" width="20.35" height="19.77" fill="rgb(160,36,0)"/>
<rect x="939.50" y="288.83" width="20.35" height="19.77" fill="rgb(163,39,0)"/>
<rect x="959.25" y="288.83" width="20.35" height="19.77" fill="rgb(165,42,0)"/>
<rect x="979.00" y="288.83" width="20.35" height="19.77" fill="rgb(172,49,0)"/>
<rect x="998.75" y="288.83" width="20.35" height="19.77" fill="rgb(179,57,0)"/>
<rect x="1018.50" y="288.83" width="20.35" height="19.77" fill="rgb(181,60,0)"/>
<rect x="1038.25" y="288.83" width="20.35" height="19.77" fill="rgb(179,57,0)"/>
<rect x="1058.00" y="288.83" width="20.35" height="19.77" fill="rgb(179,57,0)"/>
<rect x="722.25" y="308.00" width="20.35" height="19.77" fill="rgb(158,34,0)"/>
<rect x="742.00" y="308.00" width="20.35" height="19.77" fill="rgb(158,34,0)"/>
<rect x="761.75" y="308.00" width="20.35" height="19.77" fill="rgb(156,31,0)"/>
<rect x="781.50" y="308.00" width="20.35" height="19.77" fill="rgb(158,34,0)"/>
<rect x="801.25" y="308.00" width="20.35" height="19.77" fill="rgb(153,29,0)"/>
<rect x="821.00" y="308.00" width="20.35" height="19.77" fill="rgb(153,29,0)"/>
<rect x="840.75" y="308.00" width="20.35" height="19.77" fill="rgb(153,29,0)"/>
<rect x="860.50" y="308.00" width="20.35" height="19.77" fill="rgb(153,29,0)"/>
<rect x="880.25" y="308.00" width="20.35" height="19.77" fill="rgb(156,31,0)"/>
<rect x="900.00" y="308.00" width="20.35" height="19.77" fill="rgb(156,31,0)"/>
<rect x="919.75" y="308.00" width="20.35" height="19.77" fill="rgb(170,47,0)"/>
<rect x="939.50" y="308.00" width="20.35" height="19.77" fill="rgb(165,42,0)"/>
<rect x="959.25" y="308.00" width="20.35" height="19.77" fill="rgb(163,39,0)"/>
<rect x="979.00" y="308.00" width="20.35" height="19.77" fill="rgb(174,52,0)"/>
<rect x="998.75" y="308.00" width="20.35" height="19.77" fill="rgb(179,57,0)"/>
<rect x="1018.50" y="308.00" width="20.35" height="19.77" fill="rgb(179,57,0)"/>
<rect x="1038.25" y="308.00" width="20.35" height="19.77" fill="rgb(177,55,0)"/>
<rect x="1058.00" y="308.00" width="20.35" height="19.77" fill="rgb(177,55,0)"/>
<rect x="722.25" y="327.17" width="20.35" height="19.77" fill="rgb(156,31,0)"/>
<rect x="742.00" y="327.17" width="20.35" height="19.77" fill="rgb(156,31,0)"/>
<rect x="761.75" y="327.17" width="20.35" height="19.77" fill="rgb(156,31,0)"/>
<rect x="781.50" y="327.17" width="20.35" height="19.77" fill="rgb(153,29,0)"/>
<rect x="801.25" y="327.17" width="20.35" height="19.77" fill="rgb(153,29,0)"/>
<rect x="821.00" y="327.17" width="20.35" height="19.77" fill="rgb(156,31,0)"/>
<rect x="840.75" y="327.17" width="20.35" height="19.77" fill="rgb(156,31,0)"/>
<rect x="860.50" y="327.17" width="20.35" height="19.77" fill="rgb(158,34,0)"/>
<rect x="880.25" y="327.17" width="20.35" height="19.77" fill="rgb(158,34,0)"/>
<rect x="900.00" y="327.17" width="20.35" height="19.77" fill="rgb(156,31,0)"/>
<rect x="919.75" y="327.17" width="20.35" height="19.77" fill="rgb(172,49,0)"/>
<rect x="939.50" y="327.17" width="20.35" height="19.77" fill="rgb(174,52,0)"/>
<rect x="959.25" y="327.17" width="20.35" height="19.77" fill="rgb(174,52,0)"/>
<rect x="979.00" y="327.17" width="20.35" height="19.77" fill="rgb(184,62,0)"/>
<rect x="998.75" y="327.17" width="20.35" height="19.77" fill="rgb(179,57,0)"/>
<rect x="1018.50" y="327.17" width="20.35" height="19.77" fill="rgb(174,52,0)"/>
<rect x="1038.25" y="327.17" width="20.35" height="19.77" fill="rgb(177,55,0)"/>
<rect x="1058.00" y="327.17" width="20.35" height="19.77" fill="rgb(177,55,0)"/>
<rect x="722.25" y="346.33" width="20.35" height="19.77" fill="rgb(157,33,0)"/>
<rect x="742.00" y="346.33" width="20.35" height="19.77" fill="rgb(157,33,0)"/>
<rect x="761.75" y="346.33" width="20.35" height="19.77" fill="rgb(156,31,0)"/>
<rect x="781.50" y="346.33" width="20.35" height="19.77" fill="rgb(154,30,0)"/>
<rect x="801.25" y="346.33" width="20.35" height="19.77" fill="rgb(154,30,0)"/>
<rect x="821.00" y="346.33" width="20.35" height="19.77" fill="rgb(156,31,0)"/>
<rect x="840.75" y="346.33" width="20.35" height="19.77" fill="rgb(156,31,0)"/>
<rect x="860.50" y="346.33" width="20.35" height="19.77" fill="rgb(156,31,0)"/>
<rect x="880.25" y="346.33" width="20.35" height="19.77" fill="rgb(158,34,0)"/>
<rect x="900.00" y="346.33" width="20.35" height="19.77" fill="rgb(158,34,0)"/>
<rect x="919.75" y="346.33" width="20.35" height="19.77" fill="rgb(165,42,0)"/>
<rect x="939.50" y="346.33" width="20.35" height="19.77" fill="rgb(172,49,0)"/>
<rect x="959.25" y="346.33" width="20.35" height="19.77" fill="rgb(172,49,0)"/>
<rect x="979.00" y="346.33" width="20.35" height="19.77" fill="rgb(172,49,0)"/>
<rect x="998.75" y="346.33" width="20.35" height="19.77" fill="rgb(174,52,0)"/>
<rect x="1018.50" y="346.33" width="20.35" height="19.77" fill="rgb(174,52,0)"/>
<rect x="1038.25" y="346.33" width="20.35" height="19.77" fill="rgb(179,57,0)"/>
<rect x="1058.00" y="346.33" width="20.35" height="19.77" fill="rgb(179,57,0)"/>
<rect x="722.25" y="365.50" width="20.35" height="19.77" fill="rgb(156,31,0)"/>
<rect x="742.00" y="365.50" width="20.35" height="19.77" fill="rgb(156,31,0)"/>
<rect x="761.75" y="365.50" width="20.35" height="19.77" fill="rgb(154,30,0)"/>
<rect x="781.50" y="365.50" width="20.35" height="19.77" fill="rgb(154,30,0)"/>
<rect x="801.25" y="365.50" width="20.35" height="19.77" fill="rgb(153,29,0)"/>
<rect x="821.00" y="365.50" width="20.35" height="19.77" fill="rgb(153,29,0)"/>
<rect x="840.75" y="365.50" width="20.35" height="19.77" fill="rgb(153,29,0)"/>
<rect x="860.50" y="365.50" width="20.35" height="19.77" fill="rgb(156,31,0)"/>
<rect x="880.25" y="365.50" width="20.35" height="19.77" fill="rgb(156,31,0)"/>
<rect x="900.00" y="365.50" width="20.35" height="19.77" fill="rgb(158,34,0)"/>
<rect x="919.75" y="365.50" width="20.35" height="19.77" fill="rgb(160,36,0)"/>
<rect x="939.50" y="365.50" width="20.35" height="19.77" fill="rgb(163,39,0)"/>
<rect x="959.25" y="365.50" width="20.35" height="19.77" fill="rgb(163,39,0)"/>
<rect x="979.00" y="365.50" width="20.35" height="19.77" fill="rgb(165,42,0)"/>
<rect x="998.75" y="365.50" width="20.35" height="19.77" fill="rgb(174,52,0)"/>
<rect x="1018.50" y="365.50" width="20.35" height="19.77" fill="rgb(177,55,0)"/>
<rect x="1038.25" y="365.50" width="20.35" height="19.77" fill="rgb(179,57,0)"/>
<rect x="1058.00" y="365.50" width="20.35" height="19.77" fill="rgb(179,57,0)"/>
<rect x="722.25" y="384.67" width="20.35" height="19.77" fill="rgb(156,31,0)"/>
<rect x="742.00" y="384.67" width="20.35" height="19.77" fill="rgb(156,31,0)"/>
<rect x="761.75" y="384.67" width="20.35" height="19.77" fill="rgb(154,30,0)"/>
<rect x="781.50" y="384.67" width="20.35" height="19.77" fill="rgb(153,29,0)"/>
<rect x="801.25" y="384.67" width="20.35" height="19.77" fill="rgb(153,29,0)"/>
<rect x="821.00" y="384.67" width="20.35" height="19.77" fill="rgb(153,29,0)"/>
<rect x="840.75" y="384.67" width="20.35" height="19.77" fill="rgb(153,29,0)"/>
<rect x="860.50" y="384.67" width="20.35" height="19.77" fill="rgb(153,29,0)"/>
<rect x="880.25" y="384.67" width="20.35" height="19.77" fill="rgb(156,31,0)"/>
<rect x="900.00" y="384.67" width="20.35" height="19.77" fill="rgb(158,34,0)"/>
<rect x="919.75" y="384.67" width="20.35" height="19.77" fill="rgb(158,34,0)"/>
<rect x="939.50" y="384.67" width="20.35" height="19.77" fill="rgb(160,36,0)"/>
<rect x="959.25" y="384.67" width="20.35" height="19.77" fill="rgb(170,47,0)"/>
<rect x="979.00" y="384.67" width="20.35" height="19.77" fill="rgb(177,55,0)"/>
<rect x="998.75" y="384.67" width="20.35" height="19.77" fill="rgb(170,47,0)"/>
<rect x="1018.50" y="384.67" width="20.35" height="19.77" fill="rgb(172,49,0)"/>
<rect x="1038.25" y="384.67" width="20.35" height="19.77" fill="rgb(179,57,0)"/>
<rect x="1058.00" y="384.67" width="20.35" height="19.77" fill="rgb(179,57,0)"/>
<rect x="722.25" y="403.83" width="20.35" height="19.77" fill="rgb(156,31,0)"/>
<rect x="742.00" y="403.83" width="20.35" height="19.77" fill="rgb(156,31,0)"/>
<rect x="761.75" y="403.83" width="20.35" height="19.77" fill="rgb(156,31,0)"/>
<rect x="781.50" y="403.83" width="20.35" height="19.77" fill="rgb(156,31,0)"/>
<rect x="801.25" y="403.83" width="20.35" height="19.77" fill="rgb(156,31,0)"/>
<rect x="821.00" y="403.83" width="20.35" height="19.77" fill="rgb(153,29,0)"/>
<rect x="840.75" y="403.83" width="20.35" height="19.77" fill="rgb(153,29,0)"/>
<rect x="860.50" y="403.83" width="20.35" height="19.77" fill="rgb(153,29,0)"/>
<rect x="880.25" y="403.83" width="20.35" height="19.77" fill="rgb(153,29,0)"/>
<rect x="900.00" y="403.83" width="20.35" height="19.77" fill="rgb(158,34,0)"/>
<rect x="919.75" y="403.83" width="20.35" height="19.77" fill="rgb(163,39,0)"/>
<rect x="939.50" y="403.83" width="20.35" height="19.77" fill="rgb(167,44,0)"/>
<rect x="959.25" y="403.83" width="20.35" height="19.77" fill="rgb(174,52,0)"/>
<rect x="979.00" y="403.83" width="20.35" height="19.77" fill="rgb(177,55,0)"/>
<rect x="998.75" y="403.83" width="20.35" height="19.77" fill="rgb(177,55,0)"/>
<rect x="1018.50" y="403.83" width="20.35" height="19.77" fill="rgb(177,55,0)"/>
<rect x="1038.25" y="403.83" width="20.35" height="19.77" fill="rgb(179,57,0)"/>
<rect x="1058.00" y="403.83" width="20.35" height="19.77" fill="rgb(179,57,0)"/>
<rect x="722.25" y="423.00" width="20.35" height="19.77" fill="rgb(156,31,0)"/>
<rect x="742.00" y="423.00" width="20.35" height="19.77" fill="rgb(156,31,0)"/>
<rect x="761.75" y="423.00" width="20.35" height="19.77" fill="rgb(156,31,0)"/>
<rect x="781.50" y="423.00" width="20.35" height="19.77" fill="rgb(156,31,0)"/>
<rect x="801.25" y="423.00" width="20.35" height="19.77" fill="rgb(156,31,0)"/>
<rect x="821.00" y="423.00" width="20.35" height="19.77" fill="rgb(153,29,0)"/>
<rect x="840.75" y="423.00" width="20.35" height="19.77" fill="rgb(153,29,0)"/>
<rect x="860.50" y="423.00" width="20.35" height="19.77" fill="rgb(153,29,0)"/>
<rect x="880.25" y="423.00" width="20.35" height="19.77" fill="rgb(153,29,0)"/>
<rect x="900.00" y="423.00" width="20.35" height="19.77" fill="rgb(158,34,0)"/>
<rect x="919.75" y="423.00" width="20.35" height="19.77" fill="rgb(163,39,0)"/>
<rect x="939.50" y="423.00" width="20.35" height="19.77" fill="rgb(167,44,0)"/>
<rect x="959.25" y="423.00" width="20.35" height="19.77" fill="rgb(174,52,0)"/>
<rect x="979.00" y="423.00" width="20.35" height="19.77" fill="rgb(177,55,0)"/>
<rect x="998.75" y="423.00" width="20.35" height="19.77" fill="rgb(177,55,0)"/>
<rect x="1018.50" y="423.00" width="20.35" height="19.77" fill="rgb(177,55,0)"/>
<rect x="1038.25" y="423.00" width="20.35" height="19.77" fill="rgb(179,57,0)"/>
<rect x="1058.00" y="423.00" width="20.35" height="19.77" fill="rgb(179,57,0)"/>
<polygon points="848.6,134.1 887.8,129.9 924.3,139.7 921.5,162.1 927.1,195.8 935.5,223.8 935.5,257.5 924.3,274.3 899.0,268.7 887.8,246.3 873.8,218.2 859.8,190.2 848.6,162.1" fill="rgb(136,20,0)"/>
</g>
<polygon points="1035.5,281.5 1037.5,283.5 1037.0,290.0 1034.5,297.5 1031.5,298.0 1031.8,293.0 1033.5,288.5" fill="#8a0a0a"/>
<path d="M742.0 115.5H1058.0M742.0 152.7H1058.0M742.0 189.9H1058.0M742.0 227.1H1058.0M742.0 264.3H1058.0M742.0 301.5H1058.0M742.0 338.7H1058.0M742.0 375.9H1058.0M742.0 413.1H1058.0M750.4 78.0V423.0M786.1 78.0V423.0M821.8 78.0V423.0M857.5 78.0V423.0M893.2 78.0V423.0M928.9 78.0V423.0M964.6 78.0V423.0M1000.3 78.0V423.0M1036.0 78.0V423.0" stroke="#000" stroke-opacity="0.28" stroke-width="1" stroke-dasharray="1 2" fill="none"/>
</g>
<polyline points="799.5,251.0 798.1,239.2 793.9,225.2 791.1,211.2 786.9,198.6 784.1,192.3 778.5,191.6 770.0,185.9 763.0,178.9 764.4,170.5 770.0,166.3 778.5,159.3 789.7,155.1 802.3,145.3 806.5,141.8 821.9,136.9 833.1,130.6 851.4,135.5 858.4,135.5 875.2,131.3 887.8,120.8 900.0,124.3 904.2,126.4 914.0,118.0 928.0,120.1 942.1,117.3 947.7,115.2 954.7,116.6 967.3,114.5 972.9,113.7 978.5,118.7 981.3,124.3 978.5,131.3 984.1,134.1 998.1,129.9 1006.5,126.4 1016.4,125.0 1015.0,132.7 1016.4,139.7 1022.0,145.3 1027.6,146.0 1038.8,150.9 1040.2,160.7 1041.6,169.1 1043.0,176.1 1040.2,187.4 1041.6,194.4 1033.2,197.2 1030.4,204.2 1023.4,215.4 1017.8,226.6 1015.0,232.2 1013.6,243.4 1010.8,245.5 1022.0,246.2 1021.5,251.0 1017.8,262.2 1015.0,272.0 1012.2,279.0 1010.1,284.6 1012.2,293.1 1013.6,304.3 1019.2,308.5 1024.8,311.3 1024.8,321.1 1027.6,323.9 1037.4,329.5 1040.2,333.7 1047.2,335.1 1048.6,340.7 1045.8,349.1 1040.2,356.1 1033.2,360.4 1022.0,363.2 1012.2,366.0 1008.0,370.2 1006.5,375.8 998.1,376.5 989.7,377.2 984.1,382.8 975.7,387.0 964.5,394.0 958.9,392.6 953.3,395.4 946.3,401.0 942.1,406.6 930.8,408.0 925.2,409.4 916.8,410.8 908.4,402.4 900.0,394.0 892.0,387.0 885.0,380.0 875.2,375.8 861.2,366.0 854.2,359.0 840.1,353.3 826.1,346.3 818.4,344.2 816.3,337.9 810.7,334.4 809.3,326.7 806.5,315.5 803.7,309.9 807.2,301.5 807.9,290.3 803.7,283.2 805.8,269.2 805.1,258.0 799.5,251.0" fill="none" stroke="#111" stroke-width="1" stroke-linejoin="round"/>
<polygon points="742.6,78.6 1057.0,79.5 1055.0,251.0 1049.8,422.6 747.2,420.9 744.5,240.0" fill="none" stroke="#222" stroke-width="1.3"/>
<path d="M1021.5 269.3H1036.3M1028.9 261.9V276.7" stroke="#000" stroke-width="3.6"/>
<path d="M1002.8 155.1L1014.8 165.1M1002.8 165.1L1014.8 155.1" stroke="#000" stroke-width="2.8"/>
<circle cx="855.9" cy="343.1" r="4.9" fill="none" stroke="#000" stroke-width="4"/>
<text x="697.55" y="83.60" font-size="14.95" fill="#262626" textLength="17.17" lengthAdjust="spacingAndGlyphs">10</text>
<text x="726.55" y="84.35" font-size="14.45" fill="#262626" textLength="8.58" lengthAdjust="spacingAndGlyphs">S</text>
<circle cx="718.90" cy="70.35" r="1.55" fill="none" stroke="#333" stroke-width="0.9"/>
<text x="698.40" y="158.70" font-size="14.95" fill="#262626" textLength="17.17" lengthAdjust="spacingAndGlyphs">12</text>
<text x="727.40" y="159.45" font-size="14.45" fill="#262626" textLength="8.58" lengthAdjust="spacingAndGlyphs">S</text>
<circle cx="719.75" cy="145.45" r="1.55" fill="none" stroke="#333" stroke-width="0.9"/>
<text x="699.25" y="233.80" font-size="14.95" fill="#262626" textLength="17.17" lengthAdjust="spacingAndGlyphs">14</text>
<text x="728.25" y="234.55" font-size="14.45" fill="#262626" textLength="8.58" lengthAdjust="spacingAndGlyphs">S</text>
<circle cx="720.60" cy="220.55" r="1.55" fill="none" stroke="#333" stroke-width="0.9"/>
<text x="700.10" y="308.90" font-size="14.95" fill="#262626" textLength="17.17" lengthAdjust="spacingAndGlyphs">16</text>
<text x="729.10" y="309.65" font-size="14.45" fill="#262626" textLength="8.58" lengthAdjust="spacingAndGlyphs">S</text>
<circle cx="721.45" cy="295.65" r="1.55" fill="none" stroke="#333" stroke-width="0.9"/>
<text x="700.95" y="384.00" font-size="14.95" fill="#262626" textLength="17.17" lengthAdjust="spacingAndGlyphs">18</text>
<text x="729.95" y="384.75" font-size="14.45" fill="#262626" textLength="8.58" lengthAdjust="spacingAndGlyphs">S</text>
<circle cx="722.30" cy="370.75" r="1.55" fill="none" stroke="#333" stroke-width="0.9"/>
<text x="735.70" y="454.20" font-size="15.35" fill="#262626" textLength="17.88" lengthAdjust="spacingAndGlyphs">18</text>
<text x="765.15" y="454.60" font-size="14.38" fill="#262626" textLength="8.81" lengthAdjust="spacingAndGlyphs">E</text>
<circle cx="756.85" cy="441.05" r="1.55" fill="none" stroke="#333" stroke-width="0.9"/>
<text x="806.95" y="453.40" font-size="15.35" fill="#262626" textLength="17.88" lengthAdjust="spacingAndGlyphs">20</text>
<text x="836.40" y="453.80" font-size="14.38" fill="#262626" textLength="8.81" lengthAdjust="spacingAndGlyphs">E</text>
<circle cx="828.10" cy="440.25" r="1.55" fill="none" stroke="#333" stroke-width="0.9"/>
<text x="878.20" y="453.40" font-size="15.35" fill="#262626" textLength="17.88" lengthAdjust="spacingAndGlyphs">22</text>
<text x="907.65" y="453.80" font-size="14.38" fill="#262626" textLength="8.81" lengthAdjust="spacingAndGlyphs">E</text>
<circle cx="899.35" cy="440.25" r="1.55" fill="none" stroke="#333" stroke-width="0.9"/>
<text x="949.45" y="454.20" font-size="15.35" fill="#262626" textLength="17.88" lengthAdjust="spacingAndGlyphs">24</text>
<text x="978.90" y="454.60" font-size="14.38" fill="#262626" textLength="8.81" lengthAdjust="spacingAndGlyphs">E</text>
<circle cx="970.60" cy="441.05" r="1.55" fill="none" stroke="#333" stroke-width="0.9"/>
<text x="1020.70" y="455.40" font-size="15.35" fill="#262626" textLength="17.88" lengthAdjust="spacingAndGlyphs">26</text>
<text x="1050.15" y="455.80" font-size="14.38" fill="#262626" textLength="8.81" lengthAdjust="spacingAndGlyphs">E</text>
<circle cx="1041.85" cy="442.25" r="1.55" fill="none" stroke="#333" stroke-width="0.9"/>
<text x="457.00" y="492.80" font-size="18.46" fill="#262626" textLength="96.82" lengthAdjust="spacingAndGlyphs">Longitude</text>
<text x="842.80" y="491.20" font-size="18.46" fill="#262626" textLength="96.82" lengthAdjust="spacingAndGlyphs">Longitude</text>
<text transform="translate(297.00,287.40) rotate(-90)" font-size="18.60" fill="#262626" textLength="79.01" lengthAdjust="spacingAndGlyphs">Latitude</text>
<text x="428.60" y="37.10" font-size="23.20" font-weight="bold" fill="#000" textLength="171.60" lengthAdjust="spacingAndGlyphs">Original LAI</text>
<text x="420.40" y="68.30" font-size="25.45" font-weight="bold" fill="#000" textLength="186.20" lengthAdjust="spacingAndGlyphs">for 001 2010</text>
<text x="809.20" y="37.10" font-size="25.94" font-weight="bold" fill="#000" textLength="183.00" lengthAdjust="spacingAndGlyphs">TIMESAT LAI</text>
<text x="807.60" y="68.30" font-size="25.45" font-weight="bold" fill="#000" textLength="186.60" lengthAdjust="spacingAndGlyphs">for 001 2010</text>
<text x="27.80" y="56.30" font-size="36.63" font-weight="bold" fill="#000" textLength="32.99" lengthAdjust="spacingAndGlyphs">a)</text>
<text x="27.50" y="544.40" font-size="35.39" font-weight="bold" fill="#000" textLength="34.16" lengthAdjust="spacingAndGlyphs">b)</text>
<text x="81.70" y="544.10" font-size="36.97" font-weight="bold" fill="#000" textLength="1096.60" lengthAdjust="spacingAndGlyphs">Original vs. TIMESAT-adjusted Temporal Comparison</text>
<rect x="32.5" y="216.5" width="215" height="81" fill="#fff" stroke="#9a9a9a" stroke-width="1"/>
<path d="M39 231.2H57.3M48.1 222.4V240" stroke="#000" stroke-width="3.4"/>
<path d="M40.8 251.6L55.6 264M40.8 264L55.6 251.6" stroke="#000" stroke-width="2.6"/>
<circle cx="48.3" cy="284.3" r="4.4" fill="none" stroke="#000" stroke-width="3.6"/>
<text x="62.90" y="238.70" font-size="22.35" fill="#000" textLength="96.21" lengthAdjust="spacingAndGlyphs">Savanna</text>
<text x="63.55" y="264.20" font-size="20.52" fill="#000" textLength="179.31" lengthAdjust="spacingAndGlyphs">Woody Savanna</text>
<text x="62.50" y="291.20" font-size="19.82" fill="#000" textLength="112.44" lengthAdjust="spacingAndGlyphs">Grassland</text>
<rect x="1069.8" y="78.5" width="23.1" height="344" fill="url(#cbar)" stroke="#6a6a6a" stroke-width="0.7"/>
<path d="M1092.9 373.4h-3M1092.9 324.2h-3M1092.9 275.1h-3M1092.9 225.9h-3M1092.9 176.8h-3M1092.9 127.6h-3" stroke="#333" stroke-width="0.9"/>
<text x="1101.00" y="430.00" font-size="20.91" fill="#262626" textLength="11.94" lengthAdjust="spacingAndGlyphs">0</text>
<text x="1101.00" y="380.69" font-size="20.91" fill="#262626" textLength="11.94" lengthAdjust="spacingAndGlyphs">1</text>
<text x="1101.00" y="331.37" font-size="20.91" fill="#262626" textLength="11.94" lengthAdjust="spacingAndGlyphs">2</text>
<text x="1101.00" y="282.06" font-size="20.91" fill="#262626" textLength="11.94" lengthAdjust="spacingAndGlyphs">3</text>
<text x="1101.00" y="232.74" font-size="20.91" fill="#262626" textLength="11.94" lengthAdjust="spacingAndGlyphs">4</text>
<text x="1101.00" y="183.43" font-size="20.91" fill="#262626" textLength="11.94" lengthAdjust="spacingAndGlyphs">5</text>
<text x="1101.00" y="134.11" font-size="20.91" fill="#262626" textLength="11.94" lengthAdjust="spacingAndGlyphs">6</text>
<text x="1101.50" y="84.80" font-size="21.75" fill="#262626" textLength="11.71" lengthAdjust="spacingAndGlyphs">7</text>
<text transform="translate(1144.40,381.25) rotate(-90)" font-size="17.02" fill="#262626" textLength="261.96" lengthAdjust="spacingAndGlyphs">Leaf Area Index (m<tspan font-size="12.26" dy="-7.15">2</tspan><tspan dy="7.15">/m</tspan><tspan font-size="12.26" dy="-7.15">2</tspan><tspan dy="7.15">)</tspan></text>
<text x="578.10" y="619.10" font-size="33.43" font-weight="bold" fill="#000" textLength="153.40" lengthAdjust="spacingAndGlyphs">Savanna</text>
<rect x="106.5" y="632.5" width="1097.0" height="103.8" fill="none" stroke="#777" stroke-width="1.25"/>
<path d="M253.7 736.3V725.9M253.7 632.5V642.9M404.7 736.3V725.9M404.7 632.5V642.9M555.6 736.3V725.9M555.6 632.5V642.9M706.6 736.3V725.9M706.6 632.5V642.9M857.6 736.3V725.9M857.6 632.5V642.9M1008.5 736.3V725.9M1008.5 632.5V642.9M1159.5 736.3V725.9M1159.5 632.5V642.9M106.5 662.2H116.9M1203.5 662.2H1193.1" stroke="#858585" stroke-width="1.2"/>
<text x="253.90" y="772.00" font-size="28.58" fill="#262626" text-anchor="middle" textLength="37.47" lengthAdjust="spacingAndGlyphs">50</text>
<text x="403.92" y="773.65" font-size="29.85" fill="#262626" text-anchor="middle" textLength="55.52" lengthAdjust="spacingAndGlyphs">100</text>
<text x="554.88" y="773.65" font-size="29.85" fill="#262626" text-anchor="middle" textLength="55.52" lengthAdjust="spacingAndGlyphs">150</text>
<text x="705.85" y="773.65" font-size="29.85" fill="#262626" text-anchor="middle" textLength="55.52" lengthAdjust="spacingAndGlyphs">200</text>
<text x="856.81" y="773.65" font-size="29.85" fill="#262626" text-anchor="middle" textLength="55.52" lengthAdjust="spacingAndGlyphs">250</text>
<text x="1007.78" y="773.65" font-size="29.85" fill="#262626" text-anchor="middle" textLength="55.52" lengthAdjust="spacingAndGlyphs">300</text>
<text x="1158.74" y="773.65" font-size="29.85" fill="#262626" text-anchor="middle" textLength="55.52" lengthAdjust="spacingAndGlyphs">350</text>
<text x="95.80" y="672.05" font-size="31.41" fill="#262626" text-anchor="end" textLength="17.48" lengthAdjust="spacingAndGlyphs">5</text>
<text x="96.50" y="746.65" font-size="31.41" fill="#262626" text-anchor="end" textLength="17.29" lengthAdjust="spacingAndGlyphs">0</text>
<text transform="translate(65.50,708.50) rotate(-90)" font-size="33.69" fill="#262626" textLength="47.62" lengthAdjust="spacingAndGlyphs">LAI</text>
<polyline points="106.3,693.3 118.4,692.6 130.4,689.6 142.5,686.7 154.5,685.9 166.6,686.7 178.7,688.1 190.7,688.9 202.8,689.6 214.9,690.4 226.9,691.1 239.0,691.8 251.0,692.6 263.1,693.3 275.2,693.3 287.2,693.3 299.3,693.3 311.3,694.1 323.4,695.5 335.5,697.0 347.5,697.8 359.6,698.5 371.7,700.0 383.7,702.2 395.8,703.1 407.8,704.1 419.9,705.2 432.0,706.7 444.0,707.5 456.1,707.5 468.1,707.5 480.2,707.5 492.3,707.5 504.3,707.5 516.4,707.5 528.5,708.7 540.5,709.8 552.6,712.0 564.6,714.4 576.7,715.4 588.8,716.6 600.8,717.6 612.9,718.8 624.9,720.6 637.0,722.2 649.1,724.4 661.1,726.7 673.2,728.9 685.3,730.4 697.3,731.1 709.4,731.6 721.4,731.9 733.5,731.9 745.6,731.9 757.6,731.9 769.7,731.9 781.7,731.6 793.8,731.1 805.9,730.7 817.9,730.4 830.0,730.1 842.1,729.9 854.1,729.8 866.2,729.6 878.2,729.6 890.3,729.5 902.4,729.5 914.4,729.2 926.5,728.6 938.5,728.1 950.6,727.9 962.7,727.7 974.7,727.7 986.8,727.7 998.9,727.7 1010.9,727.7 1023.0,727.4 1035.0,727.4 1047.1,727.1 1059.2,725.9 1071.2,722.2 1083.3,718.5 1095.3,716.0 1107.4,712.3 1119.5,708.6 1131.5,705.3 1143.6,702.4 1155.7,698.7 1167.7,695.0 1179.8,693.8 1191.8,693.8 1203.9,690.1" fill="none" stroke="#ff8000" stroke-width="3.2" stroke-linejoin="round"/>
<path d="M96.5 685.2l19.6 16.2m-19.6 0l19.6 -16.2M108.6 684.5l19.6 16.2m-19.6 0l19.6 -16.2M120.6 681.5l19.6 16.2m-19.6 0l19.6 -16.2M132.7 678.6l19.6 16.2m-19.6 0l19.6 -16.2M144.7 677.8l19.6 16.2m-19.6 0l19.6 -16.2M156.8 678.6l19.6 16.2m-19.6 0l19.6 -16.2M168.9 680.0l19.6 16.2m-19.6 0l19.6 -16.2M180.9 680.8l19.6 16.2m-19.6 0l19.6 -16.2M193.0 681.5l19.6 16.2m-19.6 0l19.6 -16.2M205.1 682.3l19.6 16.2m-19.6 0l19.6 -16.2M217.1 683.0l19.6 16.2m-19.6 0l19.6 -16.2M229.2 683.7l19.6 16.2m-19.6 0l19.6 -16.2M241.2 684.5l19.6 16.2m-19.6 0l19.6 -16.2M253.3 685.2l19.6 16.2m-19.6 0l19.6 -16.2M265.4 685.2l19.6 16.2m-19.6 0l19.6 -16.2M277.4 685.2l19.6 16.2m-19.6 0l19.6 -16.2M289.5 685.2l19.6 16.2m-19.6 0l19.6 -16.2M301.5 686.0l19.6 16.2m-19.6 0l19.6 -16.2M313.6 687.4l19.6 16.2m-19.6 0l19.6 -16.2M325.7 688.9l19.6 16.2m-19.6 0l19.6 -16.2M337.7 689.7l19.6 16.2m-19.6 0l19.6 -16.2M349.8 690.4l19.6 16.2m-19.6 0l19.6 -16.2M361.9 691.9l19.6 16.2m-19.6 0l19.6 -16.2M373.9 694.1l19.6 16.2m-19.6 0l19.6 -16.2M386.0 695.0l19.6 16.2m-19.6 0l19.6 -16.2M398.0 696.0l19.6 16.2m-19.6 0l19.6 -16.2M410.1 697.1l19.6 16.2m-19.6 0l19.6 -16.2M422.2 698.6l19.6 16.2m-19.6 0l19.6 -16.2M434.2 699.4l19.6 16.2m-19.6 0l19.6 -16.2M446.3 699.4l19.6 16.2m-19.6 0l19.6 -16.2M458.3 699.4l19.6 16.2m-19.6 0l19.6 -16.2M470.4 699.4l19.6 16.2m-19.6 0l19.6 -16.2M482.5 699.4l19.6 16.2m-19.6 0l19.6 -16.2M494.5 699.4l19.6 16.2m-19.6 0l19.6 -16.2M506.6 699.4l19.6 16.2m-19.6 0l19.6 -16.2M518.7 700.6l19.6 16.2m-19.6 0l19.6 -16.2M530.7 701.7l19.6 16.2m-19.6 0l19.6 -16.2M542.8 703.9l19.6 16.2m-19.6 0l19.6 -16.2M554.8 706.3l19.6 16.2m-19.6 0l19.6 -16.2M566.9 707.3l19.6 16.2m-19.6 0l19.6 -16.2M579.0 708.5l19.6 16.2m-19.6 0l19.6 -16.2M591.0 709.5l19.6 16.2m-19.6 0l19.6 -16.2M603.1 710.7l19.6 16.2m-19.6 0l19.6 -16.2M615.1 712.5l19.6 16.2m-19.6 0l19.6 -16.2M627.2 714.1l19.6 16.2m-19.6 0l19.6 -16.2M639.3 716.3l19.6 16.2m-19.6 0l19.6 -16.2M651.3 718.6l19.6 16.2m-19.6 0l19.6 -16.2M663.4 720.8l19.6 16.2m-19.6 0l19.6 -16.2M675.5 722.3l19.6 16.2m-19.6 0l19.6 -16.2M687.5 723.0l19.6 16.2m-19.6 0l19.6 -16.2M699.6 723.5l19.6 16.2m-19.6 0l19.6 -16.2M711.6 723.8l19.6 16.2m-19.6 0l19.6 -16.2M723.7 723.8l19.6 16.2m-19.6 0l19.6 -16.2M735.8 723.8l19.6 16.2m-19.6 0l19.6 -16.2M747.8 723.8l19.6 16.2m-19.6 0l19.6 -16.2M759.9 723.8l19.6 16.2m-19.6 0l19.6 -16.2M771.9 723.5l19.6 16.2m-19.6 0l19.6 -16.2M784.0 723.0l19.6 16.2m-19.6 0l19.6 -16.2M796.1 722.6l19.6 16.2m-19.6 0l19.6 -16.2M808.1 722.3l19.6 16.2m-19.6 0l19.6 -16.2M820.2 722.0l19.6 16.2m-19.6 0l19.6 -16.2M832.3 721.8l19.6 16.2m-19.6 0l19.6 -16.2M844.3 721.7l19.6 16.2m-19.6 0l19.6 -16.2M856.4 721.5l19.6 16.2m-19.6 0l19.6 -16.2M868.4 721.5l19.6 16.2m-19.6 0l19.6 -16.2M880.5 721.4l19.6 16.2m-19.6 0l19.6 -16.2M892.6 721.4l19.6 16.2m-19.6 0l19.6 -16.2M904.6 721.1l19.6 16.2m-19.6 0l19.6 -16.2M916.7 720.5l19.6 16.2m-19.6 0l19.6 -16.2M928.7 720.0l19.6 16.2m-19.6 0l19.6 -16.2M940.8 719.8l19.6 16.2m-19.6 0l19.6 -16.2M952.9 719.6l19.6 16.2m-19.6 0l19.6 -16.2M964.9 719.6l19.6 16.2m-19.6 0l19.6 -16.2M977.0 719.6l19.6 16.2m-19.6 0l19.6 -16.2M989.1 719.6l19.6 16.2m-19.6 0l19.6 -16.2M1001.1 719.6l19.6 16.2m-19.6 0l19.6 -16.2M1013.2 719.3l19.6 16.2m-19.6 0l19.6 -16.2M1025.2 719.3l19.6 16.2m-19.6 0l19.6 -16.2M1037.3 719.0l19.6 16.2m-19.6 0l19.6 -16.2M1049.4 717.8l19.6 16.2m-19.6 0l19.6 -16.2M1061.4 714.1l19.6 16.2m-19.6 0l19.6 -16.2M1073.5 710.4l19.6 16.2m-19.6 0l19.6 -16.2M1085.5 707.9l19.6 16.2m-19.6 0l19.6 -16.2M1097.6 704.2l19.6 16.2m-19.6 0l19.6 -16.2M1109.7 700.5l19.6 16.2m-19.6 0l19.6 -16.2M1121.7 697.2l19.6 16.2m-19.6 0l19.6 -16.2M1133.8 694.3l19.6 16.2m-19.6 0l19.6 -16.2M1145.9 690.6l19.6 16.2m-19.6 0l19.6 -16.2M1157.9 686.9l19.6 16.2m-19.6 0l19.6 -16.2M1170.0 685.7l19.6 16.2m-19.6 0l19.6 -16.2M1182.0 685.7l19.6 16.2m-19.6 0l19.6 -16.2M1194.1 682.0l19.6 16.2m-19.6 0l19.6 -16.2" stroke="#ff8000" stroke-width="3.2" fill="none"/>
<g fill="#000"><circle cx="106.3" cy="694.5" r="5"/><circle cx="118.4" cy="686.2" r="5"/><circle cx="130.4" cy="698.1" r="5"/><circle cx="142.5" cy="682.4" r="5"/><circle cx="154.5" cy="708.0" r="5"/><circle cx="166.6" cy="682.4" r="5"/><circle cx="178.7" cy="686.2" r="5"/><circle cx="190.7" cy="715.8" r="5"/><circle cx="202.8" cy="735.0" r="5"/><circle cx="214.9" cy="699.2" r="5"/><circle cx="226.9" cy="684.7" r="5"/><circle cx="239.0" cy="686.2" r="5"/><circle cx="251.0" cy="695.8" r="5"/><circle cx="263.1" cy="699.7" r="5"/><circle cx="275.2" cy="705.3" r="5"/><circle cx="287.2" cy="700.9" r="5"/><circle cx="299.3" cy="733.3" r="5"/><circle cx="311.3" cy="695.8" r="5"/><circle cx="323.4" cy="724.9" r="5"/><circle cx="335.5" cy="735.0" r="5"/><circle cx="347.5" cy="700.9" r="5"/><circle cx="359.6" cy="695.8" r="5"/><circle cx="371.7" cy="714.4" r="5"/><circle cx="383.7" cy="700.9" r="5"/><circle cx="395.8" cy="721.0" r="5"/><circle cx="407.8" cy="707.5" r="5"/><circle cx="419.9" cy="704.0" r="5"/><circle cx="432.0" cy="712.4" r="5"/><circle cx="444.0" cy="731.9" r="5"/><circle cx="456.1" cy="704.0" r="5"/><circle cx="468.1" cy="709.3" r="5"/><circle cx="480.2" cy="714.4" r="5"/><circle cx="492.3" cy="711.6" r="5"/><circle cx="504.3" cy="709.3" r="5"/><circle cx="516.4" cy="709.3" r="5"/><circle cx="528.5" cy="717.0" r="5"/><circle cx="540.5" cy="705.3" r="5"/><circle cx="552.6" cy="718.8" r="5"/><circle cx="564.6" cy="719.8" r="5"/><circle cx="576.7" cy="721.5" r="5"/><circle cx="588.8" cy="721.5" r="5"/><circle cx="600.8" cy="722.8" r="5"/><circle cx="612.9" cy="721.5" r="5"/><circle cx="624.9" cy="726.2" r="5"/><circle cx="637.0" cy="725.0" r="5"/><circle cx="649.1" cy="726.2" r="5"/><circle cx="661.1" cy="726.2" r="5"/><circle cx="673.2" cy="734.5" r="5"/><circle cx="685.3" cy="731.9" r="5"/><circle cx="697.3" cy="734.5" r="5"/><circle cx="709.4" cy="734.5" r="5"/><circle cx="721.4" cy="732.9" r="5"/><circle cx="733.5" cy="734.5" r="5"/><circle cx="745.6" cy="733.3" r="5"/><circle cx="757.6" cy="734.5" r="5"/><circle cx="769.7" cy="733.3" r="5"/><circle cx="781.7" cy="731.9" r="5"/><circle cx="793.8" cy="731.9" r="5"/><circle cx="805.9" cy="732.9" r="5"/><circle cx="817.9" cy="731.9" r="5"/><circle cx="830.0" cy="731.9" r="5"/><circle cx="842.1" cy="730.7" r="5"/><circle cx="854.1" cy="731.9" r="5"/><circle cx="866.2" cy="731.9" r="5"/><circle cx="878.2" cy="731.9" r="5"/><circle cx="890.3" cy="729.6" r="5"/><circle cx="902.4" cy="731.9" r="5"/><circle cx="914.4" cy="732.2" r="5"/><circle cx="926.5" cy="729.2" r="5"/><circle cx="938.5" cy="730.2" r="5"/><circle cx="950.6" cy="727.7" r="5"/><circle cx="962.7" cy="729.2" r="5"/><circle cx="974.7" cy="727.7" r="5"/><circle cx="986.8" cy="729.2" r="5"/><circle cx="998.9" cy="727.7" r="5"/><circle cx="1010.9" cy="729.2" r="5"/><circle cx="1023.0" cy="727.7" r="5"/><circle cx="1035.0" cy="727.7" r="5"/><circle cx="1047.1" cy="729.2" r="5"/><circle cx="1059.2" cy="726.5" r="5"/><circle cx="1071.2" cy="715.6" r="5"/><circle cx="1083.3" cy="727.7" r="5"/><circle cx="1095.3" cy="731.0" r="5"/><circle cx="1107.4" cy="714.4" r="5"/><circle cx="1119.5" cy="720.3" r="5"/><circle cx="1131.5" cy="734.7" r="5"/><circle cx="1143.6" cy="706.7" r="5"/><circle cx="1155.7" cy="696.1" r="5"/><circle cx="1167.7" cy="690.7" r="5"/><circle cx="1179.8" cy="717.2" r="5"/><circle cx="1191.8" cy="726.5" r="5"/><circle cx="1203.9" cy="688.7" r="5"/></g>
<text x="511.10" y="819.40" font-size="30.67" font-weight="bold" fill="#000" textLength="288.41" lengthAdjust="spacingAndGlyphs">Woody Savanna</text>
<rect x="106.5" y="831.4" width="1097.0" height="103.0" fill="none" stroke="#777" stroke-width="1.25"/>
<path d="M253.7 934.4V924.0M253.7 831.4V841.8M404.7 934.4V924.0M404.7 831.4V841.8M555.6 934.4V924.0M555.6 831.4V841.8M706.6 934.4V924.0M706.6 831.4V841.8M857.6 934.4V924.0M857.6 831.4V841.8M1008.5 934.4V924.0M1008.5 831.4V841.8M1159.5 934.4V924.0M1159.5 831.4V841.8M106.5 861.0H116.9M1203.5 861.0H1193.1" stroke="#858585" stroke-width="1.2"/>
<text x="253.90" y="970.10" font-size="28.58" fill="#262626" text-anchor="middle" textLength="37.47" lengthAdjust="spacingAndGlyphs">50</text>
<text x="403.92" y="971.75" font-size="29.85" fill="#262626" text-anchor="middle" textLength="55.52" lengthAdjust="spacingAndGlyphs">100</text>
<text x="554.88" y="971.75" font-size="29.85" fill="#262626" text-anchor="middle" textLength="55.52" lengthAdjust="spacingAndGlyphs">150</text>
<text x="705.85" y="971.75" font-size="29.85" fill="#262626" text-anchor="middle" textLength="55.52" lengthAdjust="spacingAndGlyphs">200</text>
<text x="856.81" y="971.75" font-size="29.85" fill="#262626" text-anchor="middle" textLength="55.52" lengthAdjust="spacingAndGlyphs">250</text>
<text x="1007.78" y="971.75" font-size="29.85" fill="#262626" text-anchor="middle" textLength="55.52" lengthAdjust="spacingAndGlyphs">300</text>
<text x="1158.74" y="971.75" font-size="29.85" fill="#262626" text-anchor="middle" textLength="55.52" lengthAdjust="spacingAndGlyphs">350</text>
<text x="95.80" y="870.85" font-size="31.41" fill="#262626" text-anchor="end" textLength="17.48" lengthAdjust="spacingAndGlyphs">5</text>
<text x="96.50" y="944.75" font-size="31.41" fill="#262626" text-anchor="end" textLength="17.29" lengthAdjust="spacingAndGlyphs">0</text>
<text transform="translate(65.50,907.00) rotate(-90)" font-size="33.69" fill="#262626" textLength="47.62" lengthAdjust="spacingAndGlyphs">LAI</text>
<polyline points="106.3,923.2 118.4,918.8 130.4,913.3 142.5,907.2 154.5,902.1 166.6,898.9 178.7,896.2 190.7,894.8 202.8,893.9 214.9,893.3 226.9,892.9 239.0,893.3 251.0,893.3 263.1,893.3 275.2,893.3 287.2,893.3 299.3,893.3 311.3,892.7 323.4,892.1 335.5,892.7 347.5,893.3 359.6,894.5 371.7,894.8 383.7,895.5 395.8,896.2 407.8,897.0 419.9,897.7 432.0,898.9 444.0,899.9 456.1,901.5 468.1,903.3 480.2,905.0 492.3,907.2 504.3,909.4 516.4,910.9 528.5,912.1 540.5,913.3 552.6,914.4 564.6,914.9 576.7,915.5 588.8,916.2 600.8,916.6 612.9,917.1 624.9,917.7 637.0,918.4 649.1,919.7 661.1,920.2 673.2,920.6 685.3,920.9 697.3,921.2 709.4,921.5 721.4,921.8 733.5,922.1 745.6,922.4 757.6,922.5 769.7,922.7 781.7,922.7 793.8,922.7 805.9,922.7 817.9,922.5 830.0,922.2 842.1,921.9 854.1,921.6 866.2,921.2 878.2,920.7 890.3,920.2 902.4,918.3 914.4,916.2 926.5,915.0 938.5,913.7 950.6,912.5 962.7,910.8 974.7,909.6 986.8,908.0 998.9,906.2 1010.9,904.6 1023.0,903.0 1035.0,902.1 1047.1,900.6 1059.2,898.9 1071.2,897.1 1083.3,895.6 1095.3,893.9 1107.4,891.4 1119.5,889.6 1131.5,888.2 1143.6,887.6 1155.7,889.6 1167.7,893.9 1179.8,900.6 1191.8,908.7 1203.9,918.7" fill="none" stroke="#ff8000" stroke-width="3.2" stroke-linejoin="round"/>
<path d="M96.5 915.1l19.6 16.2m-19.6 0l19.6 -16.2M108.6 910.7l19.6 16.2m-19.6 0l19.6 -16.2M120.6 905.2l19.6 16.2m-19.6 0l19.6 -16.2M132.7 899.1l19.6 16.2m-19.6 0l19.6 -16.2M144.7 894.0l19.6 16.2m-19.6 0l19.6 -16.2M156.8 890.8l19.6 16.2m-19.6 0l19.6 -16.2M168.9 888.1l19.6 16.2m-19.6 0l19.6 -16.2M180.9 886.7l19.6 16.2m-19.6 0l19.6 -16.2M193.0 885.8l19.6 16.2m-19.6 0l19.6 -16.2M205.1 885.2l19.6 16.2m-19.6 0l19.6 -16.2M217.1 884.8l19.6 16.2m-19.6 0l19.6 -16.2M229.2 885.2l19.6 16.2m-19.6 0l19.6 -16.2M241.2 885.2l19.6 16.2m-19.6 0l19.6 -16.2M253.3 885.2l19.6 16.2m-19.6 0l19.6 -16.2M265.4 885.2l19.6 16.2m-19.6 0l19.6 -16.2M277.4 885.2l19.6 16.2m-19.6 0l19.6 -16.2M289.5 885.2l19.6 16.2m-19.6 0l19.6 -16.2M301.5 884.6l19.6 16.2m-19.6 0l19.6 -16.2M313.6 884.0l19.6 16.2m-19.6 0l19.6 -16.2M325.7 884.6l19.6 16.2m-19.6 0l19.6 -16.2M337.7 885.2l19.6 16.2m-19.6 0l19.6 -16.2M349.8 886.4l19.6 16.2m-19.6 0l19.6 -16.2M361.9 886.7l19.6 16.2m-19.6 0l19.6 -16.2M373.9 887.4l19.6 16.2m-19.6 0l19.6 -16.2M386.0 888.1l19.6 16.2m-19.6 0l19.6 -16.2M398.0 888.9l19.6 16.2m-19.6 0l19.6 -16.2M410.1 889.6l19.6 16.2m-19.6 0l19.6 -16.2M422.2 890.8l19.6 16.2m-19.6 0l19.6 -16.2M434.2 891.8l19.6 16.2m-19.6 0l19.6 -16.2M446.3 893.4l19.6 16.2m-19.6 0l19.6 -16.2M458.3 895.2l19.6 16.2m-19.6 0l19.6 -16.2M470.4 896.9l19.6 16.2m-19.6 0l19.6 -16.2M482.5 899.1l19.6 16.2m-19.6 0l19.6 -16.2M494.5 901.3l19.6 16.2m-19.6 0l19.6 -16.2M506.6 902.8l19.6 16.2m-19.6 0l19.6 -16.2M518.7 904.0l19.6 16.2m-19.6 0l19.6 -16.2M530.7 905.2l19.6 16.2m-19.6 0l19.6 -16.2M542.8 906.3l19.6 16.2m-19.6 0l19.6 -16.2M554.8 906.8l19.6 16.2m-19.6 0l19.6 -16.2M566.9 907.4l19.6 16.2m-19.6 0l19.6 -16.2M579.0 908.1l19.6 16.2m-19.6 0l19.6 -16.2M591.0 908.5l19.6 16.2m-19.6 0l19.6 -16.2M603.1 909.0l19.6 16.2m-19.6 0l19.6 -16.2M615.1 909.6l19.6 16.2m-19.6 0l19.6 -16.2M627.2 910.3l19.6 16.2m-19.6 0l19.6 -16.2M639.3 911.6l19.6 16.2m-19.6 0l19.6 -16.2M651.3 912.1l19.6 16.2m-19.6 0l19.6 -16.2M663.4 912.5l19.6 16.2m-19.6 0l19.6 -16.2M675.5 912.8l19.6 16.2m-19.6 0l19.6 -16.2M687.5 913.1l19.6 16.2m-19.6 0l19.6 -16.2M699.6 913.4l19.6 16.2m-19.6 0l19.6 -16.2M711.6 913.7l19.6 16.2m-19.6 0l19.6 -16.2M723.7 914.0l19.6 16.2m-19.6 0l19.6 -16.2M735.8 914.3l19.6 16.2m-19.6 0l19.6 -16.2M747.8 914.4l19.6 16.2m-19.6 0l19.6 -16.2M759.9 914.6l19.6 16.2m-19.6 0l19.6 -16.2M771.9 914.6l19.6 16.2m-19.6 0l19.6 -16.2M784.0 914.6l19.6 16.2m-19.6 0l19.6 -16.2M796.1 914.6l19.6 16.2m-19.6 0l19.6 -16.2M808.1 914.4l19.6 16.2m-19.6 0l19.6 -16.2M820.2 914.1l19.6 16.2m-19.6 0l19.6 -16.2M832.3 913.8l19.6 16.2m-19.6 0l19.6 -16.2M844.3 913.5l19.6 16.2m-19.6 0l19.6 -16.2M856.4 913.1l19.6 16.2m-19.6 0l19.6 -16.2M868.4 912.6l19.6 16.2m-19.6 0l19.6 -16.2M880.5 912.1l19.6 16.2m-19.6 0l19.6 -16.2M892.6 910.2l19.6 16.2m-19.6 0l19.6 -16.2M904.6 908.1l19.6 16.2m-19.6 0l19.6 -16.2M916.7 906.9l19.6 16.2m-19.6 0l19.6 -16.2M928.7 905.6l19.6 16.2m-19.6 0l19.6 -16.2M940.8 904.4l19.6 16.2m-19.6 0l19.6 -16.2M952.9 902.7l19.6 16.2m-19.6 0l19.6 -16.2M964.9 901.5l19.6 16.2m-19.6 0l19.6 -16.2M977.0 899.9l19.6 16.2m-19.6 0l19.6 -16.2M989.1 898.1l19.6 16.2m-19.6 0l19.6 -16.2M1001.1 896.5l19.6 16.2m-19.6 0l19.6 -16.2M1013.2 894.9l19.6 16.2m-19.6 0l19.6 -16.2M1025.2 894.0l19.6 16.2m-19.6 0l19.6 -16.2M1037.3 892.5l19.6 16.2m-19.6 0l19.6 -16.2M1049.4 890.8l19.6 16.2m-19.6 0l19.6 -16.2M1061.4 889.0l19.6 16.2m-19.6 0l19.6 -16.2M1073.5 887.5l19.6 16.2m-19.6 0l19.6 -16.2M1085.5 885.8l19.6 16.2m-19.6 0l19.6 -16.2M1097.6 883.3l19.6 16.2m-19.6 0l19.6 -16.2M1109.7 881.5l19.6 16.2m-19.6 0l19.6 -16.2M1121.7 880.1l19.6 16.2m-19.6 0l19.6 -16.2M1133.8 879.5l19.6 16.2m-19.6 0l19.6 -16.2M1145.9 881.5l19.6 16.2m-19.6 0l19.6 -16.2M1157.9 885.8l19.6 16.2m-19.6 0l19.6 -16.2M1170.0 892.5l19.6 16.2m-19.6 0l19.6 -16.2M1182.0 900.6l19.6 16.2m-19.6 0l19.6 -16.2M1194.1 910.6l19.6 16.2m-19.6 0l19.6 -16.2" stroke="#ff8000" stroke-width="3.2" fill="none"/>
<g fill="#000"><circle cx="106.3" cy="913.3" r="5"/><circle cx="118.4" cy="928.8" r="5"/><circle cx="130.4" cy="917.7" r="5"/><circle cx="142.5" cy="919.3" r="5"/><circle cx="154.5" cy="921.0" r="5"/><circle cx="166.6" cy="899.9" r="5"/><circle cx="178.7" cy="881.0" r="5"/><circle cx="190.7" cy="899.9" r="5"/><circle cx="202.8" cy="910.3" r="5"/><circle cx="214.9" cy="918.8" r="5"/><circle cx="226.9" cy="914.4" r="5"/><circle cx="239.0" cy="899.9" r="5"/><circle cx="251.0" cy="886.5" r="5"/><circle cx="263.1" cy="927.8" r="5"/><circle cx="275.2" cy="888.2" r="5"/><circle cx="287.2" cy="897.0" r="5"/><circle cx="299.3" cy="925.0" r="5"/><circle cx="311.3" cy="903.9" r="5"/><circle cx="323.4" cy="886.5" r="5"/><circle cx="335.5" cy="910.3" r="5"/><circle cx="347.5" cy="927.8" r="5"/><circle cx="359.6" cy="895.5" r="5"/><circle cx="371.7" cy="889.5" r="5"/><circle cx="383.7" cy="901.5" r="5"/><circle cx="395.8" cy="896.1" r="5"/><circle cx="407.8" cy="917.7" r="5"/><circle cx="419.9" cy="896.1" r="5"/><circle cx="432.0" cy="913.3" r="5"/><circle cx="444.0" cy="902.8" r="5"/><circle cx="456.1" cy="913.3" r="5"/><circle cx="468.1" cy="901.5" r="5"/><circle cx="480.2" cy="910.3" r="5"/><circle cx="492.3" cy="907.7" r="5"/><circle cx="504.3" cy="914.9" r="5"/><circle cx="516.4" cy="912.1" r="5"/><circle cx="528.5" cy="914.9" r="5"/><circle cx="540.5" cy="913.3" r="5"/><circle cx="552.6" cy="917.7" r="5"/><circle cx="564.6" cy="914.9" r="5"/><circle cx="576.7" cy="917.7" r="5"/><circle cx="588.8" cy="916.2" r="5"/><circle cx="600.8" cy="922.2" r="5"/><circle cx="612.9" cy="916.2" r="5"/><circle cx="624.9" cy="919.3" r="5"/><circle cx="637.0" cy="916.2" r="5"/><circle cx="649.1" cy="921.0" r="5"/><circle cx="661.1" cy="917.7" r="5"/><circle cx="673.2" cy="921.0" r="5"/><circle cx="685.3" cy="918.8" r="5"/><circle cx="697.3" cy="923.7" r="5"/><circle cx="709.4" cy="921.0" r="5"/><circle cx="721.4" cy="921.0" r="5"/><circle cx="733.5" cy="923.7" r="5"/><circle cx="745.6" cy="925.4" r="5"/><circle cx="757.6" cy="922.2" r="5"/><circle cx="769.7" cy="923.7" r="5"/><circle cx="781.7" cy="923.7" r="5"/><circle cx="793.8" cy="926.6" r="5"/><circle cx="805.9" cy="920.6" r="5"/><circle cx="817.9" cy="925.4" r="5"/><circle cx="830.0" cy="918.8" r="5"/><circle cx="842.1" cy="925.4" r="5"/><circle cx="854.1" cy="921.0" r="5"/><circle cx="866.2" cy="921.0" r="5"/><circle cx="878.2" cy="921.0" r="5"/><circle cx="890.3" cy="923.7" r="5"/><circle cx="902.4" cy="920.6" r="5"/><circle cx="914.4" cy="925.0" r="5"/><circle cx="926.5" cy="915.8" r="5"/><circle cx="938.5" cy="918.3" r="5"/><circle cx="950.6" cy="911.2" r="5"/><circle cx="962.7" cy="913.0" r="5"/><circle cx="974.7" cy="911.2" r="5"/><circle cx="986.8" cy="915.8" r="5"/><circle cx="998.9" cy="903.9" r="5"/><circle cx="1010.9" cy="913.3" r="5"/><circle cx="1023.0" cy="902.1" r="5"/><circle cx="1035.0" cy="908.7" r="5"/><circle cx="1047.1" cy="910.0" r="5"/><circle cx="1059.2" cy="906.2" r="5"/><circle cx="1071.2" cy="891.4" r="5"/><circle cx="1083.3" cy="922.5" r="5"/><circle cx="1095.3" cy="916.9" r="5"/><circle cx="1107.4" cy="927.9" r="5"/><circle cx="1119.5" cy="892.6" r="5"/><circle cx="1131.5" cy="906.2" r="5"/><circle cx="1143.6" cy="880.2" r="5"/><circle cx="1155.7" cy="890.8" r="5"/><circle cx="1167.7" cy="910.0" r="5"/><circle cx="1179.8" cy="921.9" r="5"/><circle cx="1191.8" cy="914.4" r="5"/><circle cx="1203.9" cy="918.7" r="5"/></g>
<text x="563.60" y="1016.60" font-size="34.00" font-weight="bold" fill="#000" textLength="184.28" lengthAdjust="spacingAndGlyphs">Grassland</text>
<rect x="106.5" y="1029.5" width="1097.0" height="103.8" fill="none" stroke="#777" stroke-width="1.25"/>
<path d="M253.7 1133.3V1122.9M253.7 1029.5V1039.9M404.7 1133.3V1122.9M404.7 1029.5V1039.9M555.6 1133.3V1122.9M555.6 1029.5V1039.9M706.6 1133.3V1122.9M706.6 1029.5V1039.9M857.6 1133.3V1122.9M857.6 1029.5V1039.9M1008.5 1133.3V1122.9M1008.5 1029.5V1039.9M1159.5 1133.3V1122.9M1159.5 1029.5V1039.9M106.5 1059.3H116.9M1203.5 1059.3H1193.1" stroke="#858585" stroke-width="1.2"/>
<text x="253.90" y="1169.00" font-size="28.58" fill="#262626" text-anchor="middle" textLength="37.47" lengthAdjust="spacingAndGlyphs">50</text>
<text x="403.92" y="1170.65" font-size="29.85" fill="#262626" text-anchor="middle" textLength="55.52" lengthAdjust="spacingAndGlyphs">100</text>
<text x="554.88" y="1170.65" font-size="29.85" fill="#262626" text-anchor="middle" textLength="55.52" lengthAdjust="spacingAndGlyphs">150</text>
<text x="705.85" y="1170.65" font-size="29.85" fill="#262626" text-anchor="middle" textLength="55.52" lengthAdjust="spacingAndGlyphs">200</text>
<text x="856.81" y="1170.65" font-size="29.85" fill="#262626" text-anchor="middle" textLength="55.52" lengthAdjust="spacingAndGlyphs">250</text>
<text x="1007.78" y="1170.65" font-size="29.85" fill="#262626" text-anchor="middle" textLength="55.52" lengthAdjust="spacingAndGlyphs">300</text>
<text x="1158.74" y="1170.65" font-size="29.85" fill="#262626" text-anchor="middle" textLength="55.52" lengthAdjust="spacingAndGlyphs">350</text>
<text x="95.80" y="1069.15" font-size="31.41" fill="#262626" text-anchor="end" textLength="17.48" lengthAdjust="spacingAndGlyphs">5</text>
<text x="96.50" y="1143.65" font-size="31.41" fill="#262626" text-anchor="end" textLength="17.29" lengthAdjust="spacingAndGlyphs">0</text>
<text transform="translate(65.50,1105.50) rotate(-90)" font-size="33.69" fill="#262626" textLength="47.62" lengthAdjust="spacingAndGlyphs">LAI</text>
<polyline points="106.3,1107.4 118.4,1108.9 130.4,1110.4 142.5,1111.8 154.5,1105.2 166.6,1098.5 178.7,1099.3 190.7,1099.3 202.8,1099.3 214.9,1100.3 226.9,1101.5 239.0,1102.5 251.0,1102.2 263.1,1102.2 275.2,1102.2 287.2,1102.2 299.3,1101.5 311.3,1100.7 323.4,1100.3 335.5,1100.3 347.5,1100.3 359.6,1100.7 371.7,1100.7 383.7,1100.7 395.8,1101.5 407.8,1102.2 419.9,1102.5 432.0,1103.0 444.0,1103.7 456.1,1104.9 468.1,1105.9 480.2,1106.7 492.3,1107.5 504.3,1108.9 516.4,1109.9 528.5,1111.1 540.5,1112.3 552.6,1113.3 564.6,1113.8 576.7,1114.5 588.8,1115.4 600.8,1116.0 612.9,1116.7 624.9,1117.6 637.0,1118.2 649.1,1119.2 661.1,1120.0 673.2,1120.4 685.3,1120.9 697.3,1121.2 709.4,1121.5 721.4,1121.6 733.5,1121.8 745.6,1121.9 757.6,1122.1 769.7,1122.2 781.7,1122.2 793.8,1122.3 805.9,1122.3 817.9,1122.5 830.0,1122.5 842.1,1122.2 854.1,1121.9 866.2,1121.8 878.2,1121.5 890.3,1121.2 902.4,1120.9 914.4,1120.6 926.5,1119.5 938.5,1119.1 950.6,1118.6 962.7,1118.2 974.7,1117.6 986.8,1117.0 998.9,1116.6 1010.9,1115.8 1023.0,1115.1 1035.0,1114.1 1047.1,1114.1 1059.2,1114.7 1071.2,1113.3 1083.3,1110.8 1095.3,1109.2 1107.4,1107.1 1119.5,1104.1 1131.5,1101.6 1143.6,1100.1 1155.7,1095.9 1167.7,1094.7 1179.8,1095.9 1191.8,1100.1 1203.9,1109.6" fill="none" stroke="#ff8000" stroke-width="3.2" stroke-linejoin="round"/>
<path d="M96.5 1099.3l19.6 16.2m-19.6 0l19.6 -16.2M108.6 1100.8l19.6 16.2m-19.6 0l19.6 -16.2M120.6 1102.3l19.6 16.2m-19.6 0l19.6 -16.2M132.7 1103.7l19.6 16.2m-19.6 0l19.6 -16.2M144.7 1097.1l19.6 16.2m-19.6 0l19.6 -16.2M156.8 1090.4l19.6 16.2m-19.6 0l19.6 -16.2M168.9 1091.2l19.6 16.2m-19.6 0l19.6 -16.2M180.9 1091.2l19.6 16.2m-19.6 0l19.6 -16.2M193.0 1091.2l19.6 16.2m-19.6 0l19.6 -16.2M205.1 1092.2l19.6 16.2m-19.6 0l19.6 -16.2M217.1 1093.4l19.6 16.2m-19.6 0l19.6 -16.2M229.2 1094.4l19.6 16.2m-19.6 0l19.6 -16.2M241.2 1094.1l19.6 16.2m-19.6 0l19.6 -16.2M253.3 1094.1l19.6 16.2m-19.6 0l19.6 -16.2M265.4 1094.1l19.6 16.2m-19.6 0l19.6 -16.2M277.4 1094.1l19.6 16.2m-19.6 0l19.6 -16.2M289.5 1093.4l19.6 16.2m-19.6 0l19.6 -16.2M301.5 1092.6l19.6 16.2m-19.6 0l19.6 -16.2M313.6 1092.2l19.6 16.2m-19.6 0l19.6 -16.2M325.7 1092.2l19.6 16.2m-19.6 0l19.6 -16.2M337.7 1092.2l19.6 16.2m-19.6 0l19.6 -16.2M349.8 1092.6l19.6 16.2m-19.6 0l19.6 -16.2M361.9 1092.6l19.6 16.2m-19.6 0l19.6 -16.2M373.9 1092.6l19.6 16.2m-19.6 0l19.6 -16.2M386.0 1093.4l19.6 16.2m-19.6 0l19.6 -16.2M398.0 1094.1l19.6 16.2m-19.6 0l19.6 -16.2M410.1 1094.4l19.6 16.2m-19.6 0l19.6 -16.2M422.2 1094.9l19.6 16.2m-19.6 0l19.6 -16.2M434.2 1095.6l19.6 16.2m-19.6 0l19.6 -16.2M446.3 1096.8l19.6 16.2m-19.6 0l19.6 -16.2M458.3 1097.8l19.6 16.2m-19.6 0l19.6 -16.2M470.4 1098.6l19.6 16.2m-19.6 0l19.6 -16.2M482.5 1099.4l19.6 16.2m-19.6 0l19.6 -16.2M494.5 1100.8l19.6 16.2m-19.6 0l19.6 -16.2M506.6 1101.8l19.6 16.2m-19.6 0l19.6 -16.2M518.7 1103.0l19.6 16.2m-19.6 0l19.6 -16.2M530.7 1104.2l19.6 16.2m-19.6 0l19.6 -16.2M542.8 1105.2l19.6 16.2m-19.6 0l19.6 -16.2M554.8 1105.7l19.6 16.2m-19.6 0l19.6 -16.2M566.9 1106.4l19.6 16.2m-19.6 0l19.6 -16.2M579.0 1107.3l19.6 16.2m-19.6 0l19.6 -16.2M591.0 1107.9l19.6 16.2m-19.6 0l19.6 -16.2M603.1 1108.6l19.6 16.2m-19.6 0l19.6 -16.2M615.1 1109.5l19.6 16.2m-19.6 0l19.6 -16.2M627.2 1110.1l19.6 16.2m-19.6 0l19.6 -16.2M639.3 1111.1l19.6 16.2m-19.6 0l19.6 -16.2M651.3 1111.9l19.6 16.2m-19.6 0l19.6 -16.2M663.4 1112.3l19.6 16.2m-19.6 0l19.6 -16.2M675.5 1112.8l19.6 16.2m-19.6 0l19.6 -16.2M687.5 1113.1l19.6 16.2m-19.6 0l19.6 -16.2M699.6 1113.4l19.6 16.2m-19.6 0l19.6 -16.2M711.6 1113.5l19.6 16.2m-19.6 0l19.6 -16.2M723.7 1113.7l19.6 16.2m-19.6 0l19.6 -16.2M735.8 1113.8l19.6 16.2m-19.6 0l19.6 -16.2M747.8 1114.0l19.6 16.2m-19.6 0l19.6 -16.2M759.9 1114.1l19.6 16.2m-19.6 0l19.6 -16.2M771.9 1114.1l19.6 16.2m-19.6 0l19.6 -16.2M784.0 1114.2l19.6 16.2m-19.6 0l19.6 -16.2M796.1 1114.2l19.6 16.2m-19.6 0l19.6 -16.2M808.1 1114.4l19.6 16.2m-19.6 0l19.6 -16.2M820.2 1114.4l19.6 16.2m-19.6 0l19.6 -16.2M832.3 1114.1l19.6 16.2m-19.6 0l19.6 -16.2M844.3 1113.8l19.6 16.2m-19.6 0l19.6 -16.2M856.4 1113.7l19.6 16.2m-19.6 0l19.6 -16.2M868.4 1113.4l19.6 16.2m-19.6 0l19.6 -16.2M880.5 1113.1l19.6 16.2m-19.6 0l19.6 -16.2M892.6 1112.8l19.6 16.2m-19.6 0l19.6 -16.2M904.6 1112.5l19.6 16.2m-19.6 0l19.6 -16.2M916.7 1111.4l19.6 16.2m-19.6 0l19.6 -16.2M928.7 1111.0l19.6 16.2m-19.6 0l19.6 -16.2M940.8 1110.5l19.6 16.2m-19.6 0l19.6 -16.2M952.9 1110.1l19.6 16.2m-19.6 0l19.6 -16.2M964.9 1109.5l19.6 16.2m-19.6 0l19.6 -16.2M977.0 1108.9l19.6 16.2m-19.6 0l19.6 -16.2M989.1 1108.5l19.6 16.2m-19.6 0l19.6 -16.2M1001.1 1107.7l19.6 16.2m-19.6 0l19.6 -16.2M1013.2 1107.0l19.6 16.2m-19.6 0l19.6 -16.2M1025.2 1106.0l19.6 16.2m-19.6 0l19.6 -16.2M1037.3 1106.0l19.6 16.2m-19.6 0l19.6 -16.2M1049.4 1106.6l19.6 16.2m-19.6 0l19.6 -16.2M1061.4 1105.2l19.6 16.2m-19.6 0l19.6 -16.2M1073.5 1102.7l19.6 16.2m-19.6 0l19.6 -16.2M1085.5 1101.1l19.6 16.2m-19.6 0l19.6 -16.2M1097.6 1099.0l19.6 16.2m-19.6 0l19.6 -16.2M1109.7 1096.0l19.6 16.2m-19.6 0l19.6 -16.2M1121.7 1093.5l19.6 16.2m-19.6 0l19.6 -16.2M1133.8 1092.0l19.6 16.2m-19.6 0l19.6 -16.2M1145.9 1087.8l19.6 16.2m-19.6 0l19.6 -16.2M1157.9 1086.6l19.6 16.2m-19.6 0l19.6 -16.2M1170.0 1087.8l19.6 16.2m-19.6 0l19.6 -16.2M1182.0 1092.0l19.6 16.2m-19.6 0l19.6 -16.2M1194.1 1101.5l19.6 16.2m-19.6 0l19.6 -16.2" stroke="#ff8000" stroke-width="3.2" fill="none"/>
<g fill="#000"><circle cx="106.3" cy="1116.0" r="5"/><circle cx="118.4" cy="1117.8" r="5"/><circle cx="130.4" cy="1102.5" r="5"/><circle cx="142.5" cy="1129.5" r="5"/><circle cx="154.5" cy="1118.9" r="5"/><circle cx="166.6" cy="1097.0" r="5"/><circle cx="178.7" cy="1101.0" r="5"/><circle cx="190.7" cy="1101.0" r="5"/><circle cx="202.8" cy="1097.0" r="5"/><circle cx="214.9" cy="1101.0" r="5"/><circle cx="226.9" cy="1106.7" r="5"/><circle cx="239.0" cy="1109.9" r="5"/><circle cx="251.0" cy="1097.0" r="5"/><circle cx="263.1" cy="1122.3" r="5"/><circle cx="275.2" cy="1106.7" r="5"/><circle cx="287.2" cy="1129.5" r="5"/><circle cx="299.3" cy="1101.0" r="5"/><circle cx="311.3" cy="1098.1" r="5"/><circle cx="323.4" cy="1110.4" r="5"/><circle cx="335.5" cy="1095.4" r="5"/><circle cx="347.5" cy="1117.6" r="5"/><circle cx="359.6" cy="1116.0" r="5"/><circle cx="371.7" cy="1097.0" r="5"/><circle cx="383.7" cy="1117.8" r="5"/><circle cx="395.8" cy="1105.5" r="5"/><circle cx="407.8" cy="1101.0" r="5"/><circle cx="419.9" cy="1103.7" r="5"/><circle cx="432.0" cy="1102.2" r="5"/><circle cx="444.0" cy="1105.5" r="5"/><circle cx="456.1" cy="1099.9" r="5"/><circle cx="468.1" cy="1108.9" r="5"/><circle cx="480.2" cy="1108.9" r="5"/><circle cx="492.3" cy="1108.9" r="5"/><circle cx="504.3" cy="1110.4" r="5"/><circle cx="516.4" cy="1112.0" r="5"/><circle cx="528.5" cy="1110.4" r="5"/><circle cx="540.5" cy="1116.0" r="5"/><circle cx="552.6" cy="1114.5" r="5"/><circle cx="564.6" cy="1114.5" r="5"/><circle cx="576.7" cy="1113.2" r="5"/><circle cx="588.8" cy="1117.6" r="5"/><circle cx="600.8" cy="1116.0" r="5"/><circle cx="612.9" cy="1117.6" r="5"/><circle cx="624.9" cy="1117.6" r="5"/><circle cx="637.0" cy="1120.1" r="5"/><circle cx="649.1" cy="1118.8" r="5"/><circle cx="661.1" cy="1123.4" r="5"/><circle cx="673.2" cy="1118.8" r="5"/><circle cx="685.3" cy="1122.3" r="5"/><circle cx="697.3" cy="1120.1" r="5"/><circle cx="709.4" cy="1122.3" r="5"/><circle cx="721.4" cy="1120.1" r="5"/><circle cx="733.5" cy="1123.8" r="5"/><circle cx="745.6" cy="1122.3" r="5"/><circle cx="757.6" cy="1123.8" r="5"/><circle cx="769.7" cy="1122.3" r="5"/><circle cx="781.7" cy="1122.3" r="5"/><circle cx="793.8" cy="1122.3" r="5"/><circle cx="805.9" cy="1123.8" r="5"/><circle cx="817.9" cy="1122.3" r="5"/><circle cx="830.0" cy="1125.0" r="5"/><circle cx="842.1" cy="1120.1" r="5"/><circle cx="854.1" cy="1122.3" r="5"/><circle cx="866.2" cy="1120.1" r="5"/><circle cx="878.2" cy="1122.3" r="5"/><circle cx="890.3" cy="1122.3" r="5"/><circle cx="902.4" cy="1122.1" r="5"/><circle cx="914.4" cy="1122.1" r="5"/><circle cx="926.5" cy="1120.1" r="5"/><circle cx="938.5" cy="1120.1" r="5"/><circle cx="950.6" cy="1122.1" r="5"/><circle cx="962.7" cy="1118.8" r="5"/><circle cx="974.7" cy="1120.1" r="5"/><circle cx="986.8" cy="1118.8" r="5"/><circle cx="998.9" cy="1118.8" r="5"/><circle cx="1010.9" cy="1117.2" r="5"/><circle cx="1023.0" cy="1117.2" r="5"/><circle cx="1035.0" cy="1115.8" r="5"/><circle cx="1047.1" cy="1117.2" r="5"/><circle cx="1059.2" cy="1120.1" r="5"/><circle cx="1071.2" cy="1118.8" r="5"/><circle cx="1083.3" cy="1108.9" r="5"/><circle cx="1095.3" cy="1115.8" r="5"/><circle cx="1107.4" cy="1113.3" r="5"/><circle cx="1119.5" cy="1105.3" r="5"/><circle cx="1131.5" cy="1122.1" r="5"/><circle cx="1143.6" cy="1118.8" r="5"/><circle cx="1155.7" cy="1093.5" r="5"/><circle cx="1167.7" cy="1092.2" r="5"/><circle cx="1179.8" cy="1093.5" r="5"/><circle cx="1191.8" cy="1099.7" r="5"/><circle cx="1203.9" cy="1132.1" r="5"/></g>
<rect x="708.3" y="649.8" width="147.4" height="61.8" fill="#fff" stroke="#b0b0b0" stroke-width="1"/>
<path d="M710.9 665.9H740.8" stroke="#ff8000" stroke-width="3.4"/>
<path d="M719.8 660.2l12.8 11.4m-12.8 0l12.8 -11.4" stroke="#ff8000" stroke-width="2.4"/>
<circle cx="725.9" cy="695.9" r="3.8" fill="#000"/>
<text x="743.40" y="674.40" font-size="24.31" fill="#000" textLength="107.99" lengthAdjust="spacingAndGlyphs">TIMESAT</text>
<text x="743.65" y="704.15" font-size="23.78" fill="#000" textLength="99.35" lengthAdjust="spacingAndGlyphs">Original</text>
<text x="561.00" y="1209.30" font-size="34.64" fill="#262626" textLength="190.05" lengthAdjust="spacingAndGlyphs">2010 [DOY]</text>
</svg></body></html>
